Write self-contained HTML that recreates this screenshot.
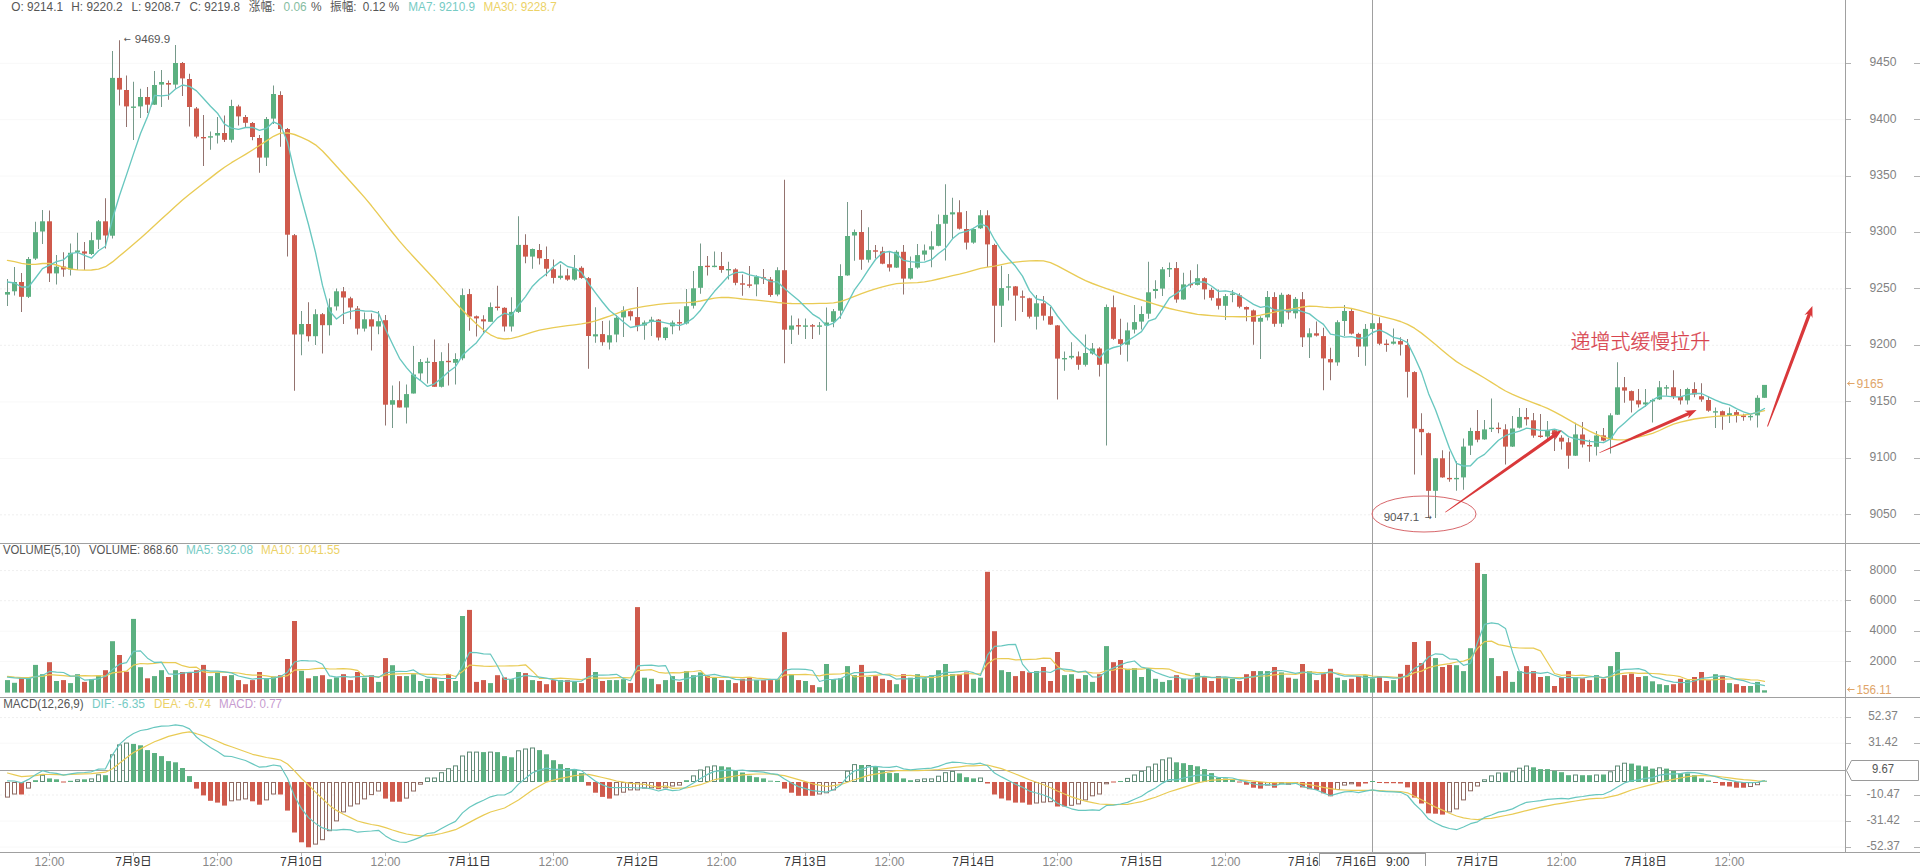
<!DOCTYPE html>
<html lang="zh"><head><meta charset="utf-8"><title>K线图</title><style>html,body{margin:0;padding:0;background:#fff;overflow:hidden}svg{display:block}</style></head><body>
<svg width="1920" height="866" viewBox="0 0 1920 866" font-family="'Liberation Sans','Noto Sans CJK SC',sans-serif" font-size="12">
<rect width="1920" height="866" fill="#fff"/>
<g stroke="#efefef" stroke-width="1" stroke-dasharray="2 2" fill="none">
<path d="M0 288.9H1845"/>
<path d="M0 345.3H1845"/>
<path d="M0 514.8H1845"/>
<path d="M0 570.6H1845"/>
<path d="M0 600.7H1845"/>
<path d="M0 717.6H1845"/>
<path d="M0 795.0H1845"/>
</g>
<g stroke="#f8f8f8" stroke-width="1" fill="none">
<path d="M0 63.3H1845"/>
<path d="M0 119.7H1845"/>
<path d="M0 176.1H1845"/>
<path d="M0 232.5H1845"/>
<path d="M0 401.9H1845"/>
<path d="M0 458.4H1845"/>
<path d="M0 631.2H1845"/>
<path d="M0 661.5H1845"/>
<path d="M0 743.2H1845"/>
<path d="M0 821.0H1845"/>
<path d="M0 847.0H1845"/>
</g>
<g stroke="#a0a0a0" stroke-width="1" fill="none" shape-rendering="crispEdges">
<path d="M1845.5 0V852"/>
<path d="M0 543.5H1920"/>
<path d="M0 697.5H1920"/>
<path d="M0 852.5H1920"/>
<path d="M1372.5 0V852"/>
<path d="M0 770.5H1845"/>
</g>
<g stroke="#b2b2b2" stroke-width="1" fill="none" shape-rendering="crispEdges">
<path d="M1846 63.5h5M1914 63.5h6"/>
<path d="M1846 119.5h5M1914 119.5h6"/>
<path d="M1846 176.5h5M1914 176.5h6"/>
<path d="M1846 232.5h5M1914 232.5h6"/>
<path d="M1846 288.5h5M1914 288.5h6"/>
<path d="M1846 345.5h5M1914 345.5h6"/>
<path d="M1846 401.5h5M1914 401.5h6"/>
<path d="M1846 458.5h5M1914 458.5h6"/>
<path d="M1846 514.5h5M1914 514.5h6"/>
<path d="M1846 570.5h5M1914 570.5h6"/>
<path d="M1846 600.5h5M1914 600.5h6"/>
<path d="M1846 631.5h5M1914 631.5h6"/>
<path d="M1846 661.5h5M1914 661.5h6"/>
<path d="M1846 717.5h5M1914 717.5h6"/>
<path d="M1846 743.5h5M1914 743.5h6"/>
<path d="M1846 795.5h5M1914 795.5h6"/>
<path d="M1846 821.5h5M1914 821.5h6"/>
<path d="M1846 847.5h5M1914 847.5h6"/>
</g>
<g fill="#828282" text-anchor="middle">
<text x="1883" y="66.1" textLength="27" lengthAdjust="spacingAndGlyphs">9450</text>
<text x="1883" y="122.5" textLength="27" lengthAdjust="spacingAndGlyphs">9400</text>
<text x="1883" y="178.9" textLength="27" lengthAdjust="spacingAndGlyphs">9350</text>
<text x="1883" y="235.3" textLength="27" lengthAdjust="spacingAndGlyphs">9300</text>
<text x="1883" y="291.7" textLength="27" lengthAdjust="spacingAndGlyphs">9250</text>
<text x="1883" y="348.1" textLength="27" lengthAdjust="spacingAndGlyphs">9200</text>
<text x="1883" y="404.7" textLength="27" lengthAdjust="spacingAndGlyphs">9150</text>
<text x="1883" y="461.2" textLength="27" lengthAdjust="spacingAndGlyphs">9100</text>
<text x="1883" y="517.6" textLength="27" lengthAdjust="spacingAndGlyphs">9050</text>
<text x="1883" y="573.8" textLength="27" lengthAdjust="spacingAndGlyphs">8000</text>
<text x="1883" y="603.9" textLength="27" lengthAdjust="spacingAndGlyphs">6000</text>
<text x="1883" y="634.4" textLength="27" lengthAdjust="spacingAndGlyphs">4000</text>
<text x="1883" y="664.7" textLength="27" lengthAdjust="spacingAndGlyphs">2000</text>
<text x="1883" y="720.2" textLength="29.5" lengthAdjust="spacingAndGlyphs">52.37</text>
<text x="1883" y="745.8" textLength="29.5" lengthAdjust="spacingAndGlyphs">31.42</text>
<text x="1883.2" y="797.6" textLength="33.5" lengthAdjust="spacingAndGlyphs">-10.47</text>
<text x="1883.2" y="823.6" textLength="33.5" lengthAdjust="spacingAndGlyphs">-31.42</text>
<text x="1883.2" y="849.6" textLength="33.5" lengthAdjust="spacingAndGlyphs">-52.37</text>
</g>
<path fill="#76998a" d="M7.0 279.0h1V305.9h-1zM14.0 267.0h1V295.5h-1zM28.0 257.0h1V298.0h-1zM35.0 221.8h1V260.0h-1zM42.0 210.0h1V243.9h-1zM56.0 255.0h1V284.6h-1zM70.0 243.5h1V275.4h-1zM77.0 232.7h1V270.0h-1zM91.0 232.2h1V255.0h-1zM98.0 220.0h1V249.0h-1zM112.0 51.0h1V238.5h-1zM133.0 81.7h1V140.0h-1zM140.0 88.8h1V118.0h-1zM154.0 71.0h1V105.0h-1zM161.0 70.0h1V107.0h-1zM175.0 45.0h1V88.8h-1zM210.0 131.5h1V149.8h-1zM217.0 117.0h1V143.4h-1zM231.0 99.7h1V142.6h-1zM266.0 117.0h1V166.0h-1zM273.0 85.4h1V124.0h-1zM301.0 310.9h1V355.3h-1zM315.0 309.2h1V344.9h-1zM329.0 298.5h1V335.4h-1zM336.0 288.4h1V310.6h-1zM364.0 312.6h1V331.5h-1zM378.0 311.0h1V334.2h-1zM392.0 385.4h1V428.1h-1zM406.0 384.6h1V423.6h-1zM413.0 346.0h1V393.5h-1zM420.0 359.0h1V380.4h-1zM427.0 357.8h1V383.4h-1zM441.0 352.3h1V387.4h-1zM455.0 353.3h1V384.6h-1zM462.0 288.4h1V360.3h-1zM490.0 302.5h1V321.8h-1zM511.0 297.2h1V331.5h-1zM518.0 216.2h1V313.0h-1zM532.0 248.6h1V268.7h-1zM560.0 264.5h1V279.6h-1zM574.0 254.9h1V280.7h-1zM595.0 307.3h1V342.7h-1zM609.0 320.4h1V349.6h-1zM616.0 315.0h1V342.3h-1zM623.0 306.2h1V336.9h-1zM644.0 320.5h1V339.7h-1zM651.0 316.8h1V335.9h-1zM665.0 327.0h1V340.2h-1zM672.0 320.5h1V334.2h-1zM686.0 289.0h1V324.6h-1zM693.0 271.0h1V308.4h-1zM700.0 243.4h1V293.7h-1zM714.0 251.4h1V267.2h-1zM728.0 261.8h1V279.4h-1zM756.0 275.2h1V296.2h-1zM777.0 267.2h1V296.2h-1zM791.0 315.4h1V343.9h-1zM805.0 318.4h1V338.9h-1zM819.0 322.1h1V334.7h-1zM826.0 307.4h1V390.7h-1zM833.0 309.1h1V327.2h-1zM840.0 264.3h1V318.8h-1zM847.0 201.9h1V275.7h-1zM854.0 229.5h1V260.7h-1zM868.0 227.3h1V262.6h-1zM896.0 250.2h1V267.9h-1zM910.0 256.5h1V279.4h-1zM917.0 244.0h1V268.7h-1zM924.0 244.6h1V260.5h-1zM931.0 231.2h1V267.2h-1zM938.0 214.4h1V246.3h-1zM945.0 184.3h1V260.5h-1zM952.0 197.7h1V238.7h-1zM973.0 227.8h1V243.8h-1zM980.0 209.9h1V229.0h-1zM1001.0 265.8h1V327.1h-1zM1008.0 274.1h1V300.6h-1zM1036.0 294.9h1V329.6h-1zM1064.0 351.4h1V370.7h-1zM1071.0 342.2h1V359.3h-1zM1085.0 334.6h1V366.5h-1zM1092.0 343.0h1V354.7h-1zM1106.0 304.5h1V445.6h-1zM1127.0 322.4h1V361.4h-1zM1134.0 305.0h1V333.5h-1zM1141.0 306.2h1V329.6h-1zM1148.0 261.8h1V318.7h-1zM1155.0 280.2h1V298.6h-1zM1162.0 267.1h1V296.1h-1zM1169.0 262.6h1V276.9h-1zM1183.0 272.7h1V299.8h-1zM1197.0 264.3h1V285.6h-1zM1225.0 293.9h1V320.1h-1zM1232.0 289.9h1V302.3h-1zM1260.0 316.2h1V358.9h-1zM1267.0 291.1h1V320.4h-1zM1281.0 292.8h1V327.0h-1zM1295.0 296.9h1V318.4h-1zM1309.0 328.2h1V357.9h-1zM1337.0 320.2h1V365.8h-1zM1344.0 305.1h1V336.1h-1zM1365.0 323.9h1V365.8h-1zM1372.0 320.0h1V335.0h-1zM1393.0 328.6h1V344.5h-1zM1435.0 458.0h1V518.1h-1zM1456.0 461.2h1V490.8h-1zM1463.0 438.6h1V489.7h-1zM1470.0 427.7h1V455.0h-1zM1484.0 420.1h1V439.8h-1zM1491.0 398.5h1V431.9h-1zM1512.0 416.0h1V447.0h-1zM1519.0 408.1h1V428.5h-1zM1547.0 421.0h1V438.9h-1zM1575.0 422.7h1V456.0h-1zM1596.0 431.1h1V455.6h-1zM1610.0 413.2h1V453.6h-1zM1617.0 362.2h1V415.0h-1zM1645.0 389.0h1V406.7h-1zM1652.0 398.7h1V422.6h-1zM1659.0 381.1h1V400.0h-1zM1666.0 384.9h1V395.7h-1zM1687.0 387.8h1V404.6h-1zM1715.0 407.4h1V428.0h-1zM1729.0 407.4h1V423.0h-1zM1750.0 414.6h1V420.5h-1zM1757.0 395.3h1V427.5h-1zM1764.0 384.9h1V397.8h-1z"/>
<path fill="#93726e" d="M21.0 272.9h1V311.9h-1zM49.0 210.4h1V282.0h-1zM63.0 252.3h1V276.7h-1zM84.0 241.9h1V270.0h-1zM105.0 198.3h1V248.6h-1zM119.0 40.2h1V105.5h-1zM126.0 75.4h1V127.0h-1zM147.0 87.0h1V113.0h-1zM168.0 80.4h1V99.7h-1zM182.0 62.0h1V96.0h-1zM189.0 73.7h1V126.5h-1zM196.0 107.0h1V138.2h-1zM203.0 115.0h1V166.0h-1zM224.0 115.6h1V142.0h-1zM238.0 104.7h1V125.6h-1zM245.0 115.0h1V128.0h-1zM252.0 122.0h1V140.3h-1zM259.0 135.0h1V172.7h-1zM280.0 91.3h1V146.8h-1zM287.0 128.0h1V256.5h-1zM294.0 234.0h1V390.7h-1zM308.0 302.2h1V341.5h-1zM322.0 313.0h1V353.6h-1zM343.0 287.0h1V324.0h-1zM350.0 296.8h1V319.3h-1zM357.0 305.9h1V334.5h-1zM371.0 313.6h1V350.6h-1zM385.0 315.0h1V425.6h-1zM399.0 381.2h1V407.5h-1zM434.0 339.4h1V386.8h-1zM448.0 343.2h1V385.4h-1zM469.0 289.1h1V330.8h-1zM476.0 315.6h1V336.5h-1zM483.0 315.3h1V332.5h-1zM497.0 285.8h1V310.6h-1zM504.0 307.2h1V331.5h-1zM525.0 234.3h1V263.3h-1zM539.0 243.9h1V264.5h-1zM546.0 246.6h1V276.2h-1zM553.0 259.5h1V283.4h-1zM567.0 268.7h1V280.7h-1zM581.0 266.2h1V278.7h-1zM588.0 277.0h1V368.7h-1zM602.0 321.0h1V345.8h-1zM630.0 310.4h1V320.5h-1zM637.0 287.0h1V331.3h-1zM658.0 319.0h1V340.6h-1zM679.0 309.6h1V330.5h-1zM707.0 256.0h1V275.6h-1zM721.0 252.1h1V272.7h-1zM735.0 268.2h1V285.3h-1zM742.0 274.4h1V295.7h-1zM749.0 266.0h1V287.8h-1zM763.0 268.9h1V283.9h-1zM770.0 276.9h1V296.7h-1zM784.0 179.8h1V363.2h-1zM798.0 318.4h1V334.7h-1zM812.0 324.1h1V338.9h-1zM861.0 209.9h1V269.8h-1zM875.0 244.9h1V258.6h-1zM882.0 246.8h1V264.3h-1zM889.0 252.1h1V271.4h-1zM903.0 245.1h1V294.6h-1zM959.0 200.2h1V229.5h-1zM966.0 211.1h1V249.6h-1zM987.0 210.3h1V267.0h-1zM994.0 243.8h1V342.5h-1zM1015.0 286.0h1V320.7h-1zM1022.0 290.5h1V312.0h-1zM1029.0 297.8h1V318.4h-1zM1043.0 296.0h1V320.4h-1zM1050.0 307.0h1V325.0h-1zM1057.0 325.0h1V399.5h-1zM1078.0 351.4h1V369.8h-1zM1099.0 347.2h1V376.5h-1zM1113.0 295.6h1V339.7h-1zM1120.0 318.7h1V354.7h-1zM1176.0 262.1h1V302.8h-1zM1190.0 270.2h1V287.7h-1zM1204.0 277.2h1V299.5h-1zM1211.0 287.7h1V300.6h-1zM1218.0 289.4h1V309.5h-1zM1239.0 293.3h1V308.3h-1zM1246.0 306.5h1V321.2h-1zM1253.0 309.5h1V344.7h-1zM1274.0 292.3h1V326.8h-1zM1288.0 293.9h1V319.5h-1zM1302.0 292.1h1V347.0h-1zM1316.0 321.5h1V336.6h-1zM1323.0 327.7h1V390.2h-1zM1330.0 347.8h1V380.2h-1zM1351.0 308.5h1V334.4h-1zM1358.0 332.8h1V357.1h-1zM1379.0 317.2h1V345.3h-1zM1386.0 339.5h1V351.7h-1zM1400.0 337.3h1V355.4h-1zM1407.0 339.0h1V397.6h-1zM1414.0 371.3h1V474.6h-1zM1421.0 413.3h1V455.3h-1zM1428.0 432.5h1V518.1h-1zM1442.0 450.3h1V477.8h-1zM1449.0 451.6h1V481.8h-1zM1477.0 410.0h1V442.3h-1zM1498.0 422.6h1V433.2h-1zM1505.0 424.3h1V464.5h-1zM1526.0 408.1h1V425.5h-1zM1533.0 413.1h1V437.7h-1zM1540.0 414.0h1V437.7h-1zM1554.0 429.4h1V451.1h-1zM1561.0 435.2h1V449.5h-1zM1568.0 437.7h1V468.7h-1zM1582.0 422.1h1V447.5h-1zM1589.0 439.8h1V461.7h-1zM1603.0 428.1h1V441.2h-1zM1624.0 376.9h1V402.8h-1zM1631.0 390.5h1V412.5h-1zM1638.0 389.0h1V407.5h-1zM1673.0 370.2h1V399.0h-1zM1680.0 389.0h1V404.4h-1zM1694.0 382.3h1V397.3h-1zM1701.0 383.3h1V401.7h-1zM1708.0 396.2h1V411.7h-1zM1722.0 410.5h1V429.7h-1zM1736.0 410.1h1V422.5h-1zM1743.0 413.8h1V420.8h-1z"/>
<g fill="#5bb080"><rect x="5.0" y="292.0" width="5" height="2.6"/><rect x="12.0" y="282.0" width="5" height="9.3"/><rect x="26.0" y="259.0" width="5" height="37.8"/><rect x="33.0" y="232.2" width="5" height="26.4"/><rect x="40.0" y="221.3" width="5" height="10.2"/><rect x="54.0" y="266.7" width="5" height="6.7"/><rect x="68.0" y="252.8" width="5" height="16.7"/><rect x="75.0" y="250.5" width="5" height="1.4"/><rect x="89.0" y="240.2" width="5" height="13.8"/><rect x="96.0" y="221.3" width="5" height="18.4"/><rect x="110.0" y="77.9" width="5" height="157.8"/><rect x="131.0" y="106.5" width="5" height="1.4"/><rect x="138.0" y="97.0" width="5" height="9.4"/><rect x="152.0" y="85.0" width="5" height="19.7"/><rect x="159.0" y="82.0" width="5" height="2.6"/><rect x="173.0" y="63.0" width="5" height="21.6"/><rect x="208.0" y="136.2" width="5" height="1.4"/><rect x="215.0" y="133.0" width="5" height="2.5"/><rect x="229.0" y="106.0" width="5" height="33.8"/><rect x="264.0" y="119.0" width="5" height="38.6"/><rect x="271.0" y="94.0" width="5" height="24.6"/><rect x="299.0" y="324.0" width="5" height="10.4"/><rect x="313.0" y="314.2" width="5" height="22.0"/><rect x="327.0" y="307.3" width="5" height="17.9"/><rect x="334.0" y="291.3" width="5" height="15.1"/><rect x="362.0" y="319.3" width="5" height="9.3"/><rect x="376.0" y="321.2" width="5" height="5.3"/><rect x="390.0" y="400.2" width="5" height="4.5"/><rect x="404.0" y="394.1" width="5" height="13.4"/><rect x="411.0" y="374.5" width="5" height="19.0"/><rect x="418.0" y="362.0" width="5" height="11.4"/><rect x="425.0" y="361.5" width="5" height="1.4"/><rect x="439.0" y="361.1" width="5" height="25.7"/><rect x="453.0" y="359.0" width="5" height="3.8"/><rect x="460.0" y="295.1" width="5" height="63.2"/><rect x="488.0" y="307.1" width="5" height="14.7"/><rect x="509.0" y="311.9" width="5" height="14.6"/><rect x="516.0" y="244.9" width="5" height="67.0"/><rect x="530.0" y="249.0" width="5" height="7.6"/><rect x="558.0" y="275.7" width="5" height="2.2"/><rect x="572.0" y="268.3" width="5" height="11.3"/><rect x="593.0" y="334.3" width="5" height="2.1"/><rect x="607.0" y="335.2" width="5" height="7.3"/><rect x="614.0" y="317.8" width="5" height="16.7"/><rect x="621.0" y="310.4" width="5" height="7.0"/><rect x="642.0" y="322.5" width="5" height="3.0"/><rect x="649.0" y="319.6" width="5" height="2.2"/><rect x="663.0" y="327.5" width="5" height="10.5"/><rect x="670.0" y="322.5" width="5" height="3.8"/><rect x="684.0" y="306.2" width="5" height="17.3"/><rect x="691.0" y="288.3" width="5" height="17.4"/><rect x="698.0" y="266.0" width="5" height="21.8"/><rect x="712.0" y="265.7" width="5" height="1.4"/><rect x="726.0" y="269.0" width="5" height="1.4"/><rect x="754.0" y="276.6" width="5" height="7.8"/><rect x="775.0" y="270.2" width="5" height="24.3"/><rect x="789.0" y="325.5" width="5" height="4.2"/><rect x="803.0" y="325.4" width="5" height="1.4"/><rect x="817.0" y="325.4" width="5" height="1.4"/><rect x="824.0" y="322.5" width="5" height="3.0"/><rect x="831.0" y="311.2" width="5" height="10.6"/><rect x="838.0" y="276.0" width="5" height="34.7"/><rect x="845.0" y="236.0" width="5" height="39.4"/><rect x="852.0" y="232.0" width="5" height="3.5"/><rect x="866.0" y="250.1" width="5" height="9.6"/><rect x="894.0" y="251.8" width="5" height="15.8"/><rect x="908.0" y="268.1" width="5" height="10.5"/><rect x="915.0" y="255.1" width="5" height="12.5"/><rect x="922.0" y="250.5" width="5" height="4.1"/><rect x="929.0" y="246.3" width="5" height="3.3"/><rect x="936.0" y="224.2" width="5" height="21.6"/><rect x="943.0" y="214.9" width="5" height="8.8"/><rect x="950.0" y="212.3" width="5" height="2.1"/><rect x="971.0" y="229.0" width="5" height="13.6"/><rect x="978.0" y="215.3" width="5" height="13.0"/><rect x="999.0" y="288.1" width="5" height="17.6"/><rect x="1006.0" y="286.3" width="5" height="1.4"/><rect x="1034.0" y="303.3" width="5" height="13.4"/><rect x="1062.0" y="358.0" width="5" height="1.4"/><rect x="1069.0" y="355.9" width="5" height="1.7"/><rect x="1083.0" y="353.0" width="5" height="11.8"/><rect x="1090.0" y="348.5" width="5" height="5.1"/><rect x="1104.0" y="307.0" width="5" height="56.6"/><rect x="1125.0" y="330.4" width="5" height="14.3"/><rect x="1132.0" y="322.1" width="5" height="7.5"/><rect x="1139.0" y="314.0" width="5" height="7.6"/><rect x="1146.0" y="292.3" width="5" height="21.4"/><rect x="1153.0" y="289.0" width="5" height="2.0"/><rect x="1160.0" y="269.3" width="5" height="19.3"/><rect x="1167.0" y="268.0" width="5" height="1.4"/><rect x="1181.0" y="284.4" width="5" height="15.1"/><rect x="1195.0" y="278.2" width="5" height="6.7"/><rect x="1223.0" y="296.1" width="5" height="9.7"/><rect x="1230.0" y="293.5" width="5" height="1.4"/><rect x="1258.0" y="317.9" width="5" height="3.8"/><rect x="1265.0" y="297.0" width="5" height="20.4"/><rect x="1279.0" y="294.8" width="5" height="28.8"/><rect x="1293.0" y="298.9" width="5" height="14.4"/><rect x="1307.0" y="333.3" width="5" height="4.0"/><rect x="1335.0" y="322.2" width="5" height="40.2"/><rect x="1342.0" y="311.0" width="5" height="10.0"/><rect x="1363.0" y="328.9" width="5" height="17.6"/><rect x="1370.0" y="323.2" width="5" height="5.7"/><rect x="1391.0" y="341.6" width="5" height="2.1"/><rect x="1433.0" y="458.3" width="5" height="32.5"/><rect x="1454.0" y="477.9" width="5" height="1.4"/><rect x="1461.0" y="446.6" width="5" height="30.8"/><rect x="1468.0" y="431.0" width="5" height="14.6"/><rect x="1482.0" y="429.4" width="5" height="10.0"/><rect x="1489.0" y="427.7" width="5" height="1.4"/><rect x="1510.0" y="428.5" width="5" height="18.1"/><rect x="1517.0" y="416.9" width="5" height="10.8"/><rect x="1545.0" y="430.2" width="5" height="6.4"/><rect x="1573.0" y="434.4" width="5" height="21.3"/><rect x="1594.0" y="435.5" width="5" height="11.3"/><rect x="1608.0" y="415.3" width="5" height="23.8"/><rect x="1615.0" y="387.3" width="5" height="27.4"/><rect x="1643.0" y="402.4" width="5" height="2.0"/><rect x="1650.0" y="400.0" width="5" height="1.4"/><rect x="1657.0" y="387.3" width="5" height="12.1"/><rect x="1664.0" y="387.2" width="5" height="1.4"/><rect x="1685.0" y="389.0" width="5" height="11.4"/><rect x="1713.0" y="411.2" width="5" height="1.4"/><rect x="1727.0" y="413.2" width="5" height="2.6"/><rect x="1748.0" y="415.9" width="5" height="1.4"/><rect x="1755.0" y="397.8" width="5" height="17.6"/><rect x="1762.0" y="384.9" width="5" height="12.9"/></g>
<g fill="#cf5a4c"><rect x="19.0" y="282.0" width="5" height="14.8"/><rect x="47.0" y="221.3" width="5" height="52.1"/><rect x="61.0" y="266.5" width="5" height="3.0"/><rect x="82.0" y="251.4" width="5" height="2.2"/><rect x="103.0" y="221.3" width="5" height="14.2"/><rect x="117.0" y="77.9" width="5" height="11.7"/><rect x="124.0" y="90.0" width="5" height="16.4"/><rect x="145.0" y="97.0" width="5" height="7.7"/><rect x="166.0" y="83.0" width="5" height="1.6"/><rect x="180.0" y="63.0" width="5" height="15.4"/><rect x="187.0" y="79.0" width="5" height="28.0"/><rect x="194.0" y="108.5" width="5" height="28.1"/><rect x="201.0" y="137.0" width="5" height="1.4"/><rect x="222.0" y="133.0" width="5" height="6.8"/><rect x="236.0" y="106.4" width="5" height="10.0"/><rect x="243.0" y="117.0" width="5" height="5.8"/><rect x="250.0" y="123.0" width="5" height="14.0"/><rect x="257.0" y="138.0" width="5" height="19.6"/><rect x="278.0" y="95.0" width="5" height="34.0"/><rect x="285.0" y="129.0" width="5" height="105.7"/><rect x="292.0" y="235.2" width="5" height="99.3"/><rect x="306.0" y="324.0" width="5" height="12.2"/><rect x="320.0" y="314.2" width="5" height="11.0"/><rect x="341.0" y="291.3" width="5" height="6.2"/><rect x="348.0" y="298.3" width="5" height="9.2"/><rect x="355.0" y="308.5" width="5" height="20.1"/><rect x="369.0" y="319.3" width="5" height="7.2"/><rect x="383.0" y="320.2" width="5" height="84.5"/><rect x="397.0" y="400.2" width="5" height="7.3"/><rect x="432.0" y="362.0" width="5" height="24.8"/><rect x="446.0" y="360.8" width="5" height="1.4"/><rect x="467.0" y="294.1" width="5" height="22.4"/><rect x="474.0" y="316.3" width="5" height="2.1"/><rect x="481.0" y="319.3" width="5" height="2.1"/><rect x="495.0" y="306.6" width="5" height="1.4"/><rect x="502.0" y="307.8" width="5" height="18.7"/><rect x="523.0" y="244.9" width="5" height="11.7"/><rect x="537.0" y="250.0" width="5" height="8.3"/><rect x="544.0" y="259.0" width="5" height="9.7"/><rect x="551.0" y="269.2" width="5" height="8.7"/><rect x="565.0" y="275.4" width="5" height="4.2"/><rect x="579.0" y="267.8" width="5" height="10.1"/><rect x="586.0" y="278.2" width="5" height="57.8"/><rect x="600.0" y="334.1" width="5" height="8.1"/><rect x="628.0" y="311.2" width="5" height="5.1"/><rect x="635.0" y="317.1" width="5" height="8.7"/><rect x="656.0" y="319.6" width="5" height="17.9"/><rect x="677.0" y="322.1" width="5" height="1.4"/><rect x="705.0" y="265.7" width="5" height="1.4"/><rect x="719.0" y="266.0" width="5" height="3.9"/><rect x="733.0" y="269.4" width="5" height="13.4"/><rect x="740.0" y="283.3" width="5" height="1.4"/><rect x="747.0" y="284.4" width="5" height="1.4"/><rect x="761.0" y="277.2" width="5" height="1.4"/><rect x="768.0" y="279.4" width="5" height="15.6"/><rect x="782.0" y="270.2" width="5" height="59.5"/><rect x="796.0" y="325.1" width="5" height="1.4"/><rect x="810.0" y="325.2" width="5" height="1.4"/><rect x="859.0" y="232.0" width="5" height="27.7"/><rect x="873.0" y="250.3" width="5" height="1.4"/><rect x="880.0" y="251.3" width="5" height="12.4"/><rect x="887.0" y="264.2" width="5" height="3.4"/><rect x="901.0" y="251.8" width="5" height="26.8"/><rect x="957.0" y="212.3" width="5" height="16.4"/><rect x="964.0" y="229.0" width="5" height="13.6"/><rect x="985.0" y="215.3" width="5" height="29.1"/><rect x="992.0" y="245.0" width="5" height="60.7"/><rect x="1013.0" y="286.4" width="5" height="9.2"/><rect x="1020.0" y="296.3" width="5" height="1.4"/><rect x="1027.0" y="298.3" width="5" height="18.4"/><rect x="1041.0" y="303.3" width="5" height="12.4"/><rect x="1048.0" y="316.2" width="5" height="8.4"/><rect x="1055.0" y="325.4" width="5" height="33.2"/><rect x="1076.0" y="356.4" width="5" height="8.4"/><rect x="1097.0" y="348.5" width="5" height="16.3"/><rect x="1111.0" y="307.3" width="5" height="31.5"/><rect x="1118.0" y="339.2" width="5" height="4.7"/><rect x="1174.0" y="268.1" width="5" height="31.4"/><rect x="1188.0" y="283.9" width="5" height="1.4"/><rect x="1202.0" y="278.2" width="5" height="11.2"/><rect x="1209.0" y="289.9" width="5" height="7.9"/><rect x="1216.0" y="298.3" width="5" height="7.5"/><rect x="1237.0" y="295.3" width="5" height="11.4"/><rect x="1244.0" y="307.0" width="5" height="2.5"/><rect x="1251.0" y="310.4" width="5" height="11.3"/><rect x="1272.0" y="297.0" width="5" height="26.8"/><rect x="1286.0" y="294.8" width="5" height="17.7"/><rect x="1300.0" y="299.3" width="5" height="38.0"/><rect x="1314.0" y="333.3" width="5" height="2.3"/><rect x="1321.0" y="336.1" width="5" height="22.3"/><rect x="1328.0" y="359.1" width="5" height="3.3"/><rect x="1349.0" y="311.0" width="5" height="22.6"/><rect x="1356.0" y="333.9" width="5" height="12.6"/><rect x="1377.0" y="323.2" width="5" height="20.5"/><rect x="1384.0" y="343.6" width="5" height="1.4"/><rect x="1398.0" y="341.1" width="5" height="3.4"/><rect x="1405.0" y="345.0" width="5" height="26.8"/><rect x="1412.0" y="372.1" width="5" height="56.4"/><rect x="1419.0" y="428.9" width="5" height="3.3"/><rect x="1426.0" y="433.2" width="5" height="57.6"/><rect x="1440.0" y="458.3" width="5" height="19.1"/><rect x="1447.0" y="477.9" width="5" height="1.4"/><rect x="1475.0" y="431.0" width="5" height="8.7"/><rect x="1496.0" y="427.7" width="5" height="1.4"/><rect x="1503.0" y="429.4" width="5" height="17.2"/><rect x="1524.0" y="417.1" width="5" height="2.2"/><rect x="1531.0" y="420.3" width="5" height="15.3"/><rect x="1538.0" y="435.6" width="5" height="1.4"/><rect x="1552.0" y="430.2" width="5" height="7.0"/><rect x="1559.0" y="437.7" width="5" height="3.9"/><rect x="1566.0" y="442.3" width="5" height="13.4"/><rect x="1580.0" y="434.5" width="5" height="10.0"/><rect x="1587.0" y="445.0" width="5" height="1.4"/><rect x="1601.0" y="435.4" width="5" height="5.2"/><rect x="1622.0" y="387.3" width="5" height="3.3"/><rect x="1629.0" y="391.1" width="5" height="9.5"/><rect x="1636.0" y="400.4" width="5" height="4.0"/><rect x="1671.0" y="387.3" width="5" height="9.1"/><rect x="1678.0" y="397.0" width="5" height="3.4"/><rect x="1692.0" y="389.0" width="5" height="5.4"/><rect x="1699.0" y="396.2" width="5" height="3.3"/><rect x="1706.0" y="400.0" width="5" height="10.7"/><rect x="1720.0" y="411.2" width="5" height="4.6"/><rect x="1734.0" y="412.1" width="5" height="3.0"/><rect x="1741.0" y="415.4" width="5" height="1.7"/></g>
<path d="M7.5 260.4 L14.5 261.7 L21.5 263.3 L28.5 264.4 L35.5 264.3 L42.5 263.5 L49.5 263.5 L56.5 265.0 L63.5 267.3 L70.5 269.0 L77.5 269.8 L84.5 270.1 L91.5 270.0 L98.5 269.1 L105.5 266.7 L112.5 261.9 L119.5 256.1 L126.5 250.2 L133.5 244.3 L140.5 238.3 L147.5 232.0 L154.5 225.6 L161.5 219.1 L168.5 212.7 L175.5 206.2 L182.5 200.0 L189.5 194.3 L196.5 188.8 L203.5 183.3 L210.5 177.9 L217.5 172.4 L224.5 167.2 L231.5 162.7 L238.5 158.5 L245.5 154.3 L252.5 150.0 L259.5 145.5 L266.5 140.9 L273.5 136.3 L280.5 133.2 L287.5 132.9 L294.5 134.5 L301.5 137.3 L308.5 140.6 L315.5 144.8 L322.5 151.0 L329.5 158.5 L336.5 166.3 L343.5 174.0 L350.5 181.7 L357.5 189.5 L364.5 197.4 L371.5 205.8 L378.5 214.7 L385.5 223.6 L392.5 232.5 L399.5 241.1 L406.5 249.1 L413.5 256.7 L420.5 264.2 L427.5 271.7 L434.5 279.3 L441.5 287.1 L448.5 294.9 L455.5 302.8 L462.5 310.3 L469.5 317.3 L476.5 323.9 L483.5 330.0 L490.5 334.8 L497.5 338.0 L504.5 339.0 L511.5 338.4 L518.5 336.7 L525.5 334.4 L532.5 332.1 L539.5 330.1 L546.5 328.8 L553.5 327.7 L560.5 326.7 L567.5 325.7 L574.5 324.8 L581.5 323.9 L588.5 322.7 L595.5 320.8 L602.5 318.5 L609.5 316.2 L616.5 313.6 L623.5 310.9 L630.5 309.0 L637.5 307.6 L644.5 306.3 L651.5 305.3 L658.5 304.3 L665.5 303.6 L672.5 303.1 L679.5 302.9 L686.5 302.6 L693.5 302.1 L700.5 301.0 L707.5 299.5 L714.5 298.1 L721.5 297.3 L728.5 297.5 L735.5 298.2 L742.5 299.0 L749.5 299.6 L756.5 300.1 L763.5 300.8 L770.5 301.6 L777.5 302.5 L784.5 303.2 L791.5 303.5 L798.5 303.6 L805.5 303.6 L812.5 303.6 L819.5 303.4 L826.5 303.3 L833.5 302.9 L840.5 301.6 L847.5 299.1 L854.5 296.3 L861.5 293.7 L868.5 291.1 L875.5 288.8 L882.5 286.8 L889.5 285.1 L896.5 283.7 L903.5 283.1 L910.5 282.8 L917.5 282.6 L924.5 281.9 L931.5 280.6 L938.5 279.0 L945.5 277.3 L952.5 275.7 L959.5 274.2 L966.5 272.4 L973.5 270.3 L980.5 268.4 L987.5 267.2 L994.5 266.2 L1001.5 264.7 L1008.5 263.2 L1015.5 262.2 L1022.5 261.4 L1029.5 260.9 L1036.5 260.6 L1043.5 260.8 L1050.5 262.6 L1057.5 265.8 L1064.5 269.6 L1071.5 273.3 L1078.5 277.2 L1085.5 280.7 L1092.5 283.5 L1099.5 286.1 L1106.5 288.6 L1113.5 291.0 L1120.5 293.3 L1127.5 295.6 L1134.5 297.8 L1141.5 300.0 L1148.5 302.2 L1155.5 304.4 L1162.5 306.5 L1169.5 308.5 L1176.5 310.1 L1183.5 311.6 L1190.5 313.0 L1197.5 314.3 L1204.5 315.0 L1211.5 315.6 L1218.5 316.1 L1225.5 316.6 L1232.5 316.7 L1239.5 316.7 L1246.5 316.7 L1253.5 316.3 L1260.5 315.2 L1267.5 313.7 L1274.5 312.1 L1281.5 310.6 L1288.5 309.4 L1295.5 308.4 L1302.5 307.0 L1309.5 306.1 L1316.5 306.4 L1323.5 307.2 L1330.5 307.7 L1337.5 307.4 L1344.5 307.4 L1351.5 308.5 L1358.5 310.2 L1365.5 312.1 L1372.5 314.1 L1379.5 315.9 L1386.5 317.7 L1393.5 319.4 L1400.5 321.5 L1407.5 324.4 L1414.5 328.2 L1421.5 333.1 L1428.5 338.7 L1435.5 344.5 L1442.5 350.4 L1449.5 356.2 L1456.5 361.6 L1463.5 366.0 L1470.5 369.9 L1477.5 373.9 L1484.5 378.0 L1491.5 382.3 L1498.5 386.8 L1505.5 391.0 L1512.5 394.4 L1519.5 397.3 L1526.5 400.2 L1533.5 402.9 L1540.5 405.5 L1547.5 408.4 L1554.5 411.9 L1561.5 415.7 L1568.5 419.7 L1575.5 423.7 L1582.5 427.4 L1589.5 431.1 L1596.5 434.4 L1603.5 437.1 L1610.5 439.0 L1617.5 439.9 L1624.5 439.8 L1631.5 438.7 L1638.5 437.1 L1645.5 435.4 L1652.5 433.4 L1659.5 430.5 L1666.5 427.1 L1673.5 424.2 L1680.5 422.1 L1687.5 420.5 L1694.5 419.0 L1701.5 418.0 L1708.5 417.1 L1715.5 416.4 L1722.5 416.0 L1729.5 415.7 L1736.5 415.4 L1743.5 415.0 L1750.5 414.1 L1757.5 412.4 L1764.5 410.7" fill="none" stroke="#e9cb55" stroke-width="1.35" stroke-linejoin="round" stroke-linecap="round"/>
<path d="M7.5 282.0 L14.5 283.0 L21.5 287.0 L28.5 287.0 L35.5 278.0 L42.5 268.7 L49.5 265.2 L56.5 261.6 L63.5 259.8 L70.5 253.6 L77.5 252.3 L84.5 255.4 L91.5 258.1 L98.5 250.7 L105.5 246.2 L112.5 218.8 L119.5 195.5 L126.5 174.9 L133.5 153.9 L140.5 133.5 L147.5 116.8 L154.5 95.3 L161.5 95.9 L168.5 95.2 L175.5 89.0 L182.5 85.0 L189.5 86.4 L196.5 90.9 L203.5 98.5 L210.5 106.3 L217.5 113.2 L224.5 124.1 L231.5 128.1 L238.5 129.4 L245.5 127.5 L252.5 127.3 L259.5 130.4 L266.5 128.4 L273.5 121.8 L280.5 125.1 L287.5 142.0 L294.5 172.3 L301.5 199.0 L308.5 224.5 L315.5 252.4 L322.5 285.4 L329.5 310.9 L336.5 319.0 L343.5 313.7 L350.5 311.3 L357.5 310.2 L364.5 311.0 L371.5 311.1 L378.5 313.1 L385.5 329.3 L392.5 344.0 L399.5 358.3 L406.5 367.6 L413.5 375.5 L420.5 380.6 L427.5 386.4 L434.5 383.8 L441.5 378.2 L448.5 371.7 L455.5 366.7 L462.5 355.3 L469.5 348.8 L476.5 342.7 L483.5 333.3 L490.5 325.6 L497.5 317.9 L504.5 313.2 L511.5 315.6 L518.5 305.4 L525.5 296.6 L532.5 286.2 L539.5 279.3 L546.5 273.7 L553.5 266.8 L560.5 261.6 L567.5 266.5 L574.5 268.2 L581.5 272.3 L588.5 283.4 L595.5 292.8 L602.5 302.0 L609.5 310.5 L616.5 316.0 L623.5 322.0 L630.5 327.5 L637.5 326.0 L644.5 324.3 L651.5 321.1 L658.5 321.4 L665.5 322.8 L672.5 324.5 L679.5 325.6 L686.5 322.8 L693.5 317.9 L700.5 310.2 L707.5 300.1 L714.5 291.3 L721.5 283.8 L728.5 276.0 L735.5 272.6 L742.5 272.1 L749.5 274.9 L756.5 276.3 L763.5 278.1 L770.5 281.7 L777.5 281.8 L784.5 288.5 L791.5 294.4 L798.5 300.2 L805.5 307.2 L812.5 314.1 L819.5 318.4 L826.5 325.9 L833.5 323.2 L840.5 316.2 L847.5 303.3 L854.5 289.9 L861.5 280.4 L868.5 269.6 L875.5 259.5 L882.5 252.7 L889.5 251.5 L896.5 253.7 L903.5 260.4 L910.5 261.6 L917.5 262.3 L924.5 262.2 L931.5 259.7 L938.5 253.5 L945.5 248.2 L952.5 238.8 L959.5 233.1 L966.5 231.4 L973.5 228.3 L980.5 223.9 L987.5 226.7 L994.5 239.7 L1001.5 250.5 L1008.5 258.8 L1015.5 266.3 L1022.5 276.1 L1029.5 290.6 L1036.5 299.0 L1043.5 300.5 L1050.5 305.7 L1057.5 316.0 L1064.5 324.9 L1071.5 333.3 L1078.5 340.1 L1085.5 347.2 L1092.5 351.9 L1099.5 357.7 L1106.5 350.3 L1113.5 347.5 L1120.5 345.8 L1127.5 340.9 L1134.5 336.5 L1141.5 331.6 L1148.5 321.2 L1155.5 318.6 L1162.5 308.7 L1169.5 297.9 L1176.5 293.5 L1183.5 288.1 L1190.5 283.9 L1197.5 281.9 L1204.5 282.0 L1211.5 286.0 L1218.5 291.4 L1225.5 290.9 L1232.5 292.2 L1239.5 295.4 L1246.5 299.8 L1253.5 304.4 L1260.5 307.3 L1267.5 306.1 L1274.5 310.0 L1281.5 310.2 L1288.5 311.0 L1295.5 309.5 L1302.5 311.7 L1309.5 313.9 L1316.5 319.5 L1323.5 324.4 L1330.5 334.1 L1337.5 335.4 L1344.5 337.2 L1351.5 336.6 L1358.5 338.5 L1365.5 337.6 L1372.5 332.5 L1379.5 329.9 L1386.5 333.1 L1393.5 337.4 L1400.5 339.0 L1407.5 342.6 L1414.5 356.8 L1421.5 372.4 L1428.5 393.4 L1435.5 409.7 L1442.5 429.1 L1449.5 448.3 L1456.5 463.4 L1463.5 466.0 L1470.5 465.8 L1477.5 458.5 L1484.5 454.4 L1491.5 447.3 L1498.5 440.2 L1505.5 435.7 L1512.5 433.1 L1519.5 431.1 L1526.5 428.2 L1533.5 429.1 L1540.5 430.3 L1547.5 430.5 L1554.5 429.2 L1561.5 431.1 L1568.5 436.6 L1575.5 438.8 L1582.5 440.0 L1589.5 441.4 L1596.5 442.2 L1603.5 442.7 L1610.5 438.9 L1617.5 429.1 L1624.5 422.9 L1631.5 416.6 L1638.5 410.6 L1645.5 405.9 L1652.5 400.1 L1659.5 396.1 L1666.5 396.1 L1673.5 396.9 L1680.5 396.9 L1687.5 394.7 L1694.5 393.5 L1701.5 393.5 L1708.5 396.8 L1715.5 400.2 L1722.5 403.0 L1729.5 404.8 L1736.5 408.6 L1743.5 411.8 L1750.5 414.1 L1757.5 412.3 L1764.5 408.5" fill="none" stroke="#68c7bf" stroke-width="1.35" stroke-linejoin="round" stroke-linecap="round"/>
<g fill="#5bb080"><rect x="5.0" y="680.1" width="5" height="12.5"/><rect x="12.0" y="682.8" width="5" height="9.8"/><rect x="26.0" y="678.3" width="5" height="14.3"/><rect x="33.0" y="664.9" width="5" height="27.7"/><rect x="40.0" y="674.2" width="5" height="18.4"/><rect x="54.0" y="681.0" width="5" height="11.6"/><rect x="68.0" y="683.1" width="5" height="9.5"/><rect x="75.0" y="674.2" width="5" height="18.4"/><rect x="89.0" y="679.2" width="5" height="13.4"/><rect x="96.0" y="675.6" width="5" height="17.0"/><rect x="110.0" y="641.2" width="5" height="51.4"/><rect x="131.0" y="618.9" width="5" height="73.7"/><rect x="138.0" y="667.2" width="5" height="25.4"/><rect x="152.0" y="676.1" width="5" height="16.5"/><rect x="159.0" y="670.2" width="5" height="22.4"/><rect x="173.0" y="670.2" width="5" height="22.4"/><rect x="208.0" y="676.1" width="5" height="16.5"/><rect x="215.0" y="672.4" width="5" height="20.2"/><rect x="229.0" y="675.1" width="5" height="17.5"/><rect x="264.0" y="678.3" width="5" height="14.3"/><rect x="271.0" y="676.5" width="5" height="16.1"/><rect x="299.0" y="670.8" width="5" height="21.8"/><rect x="313.0" y="676.1" width="5" height="16.5"/><rect x="327.0" y="679.2" width="5" height="13.4"/><rect x="334.0" y="677.4" width="5" height="15.2"/><rect x="362.0" y="677.7" width="5" height="14.9"/><rect x="376.0" y="681.9" width="5" height="10.7"/><rect x="390.0" y="665.2" width="5" height="27.4"/><rect x="404.0" y="676.1" width="5" height="16.5"/><rect x="411.0" y="674.2" width="5" height="18.4"/><rect x="418.0" y="681.0" width="5" height="11.6"/><rect x="425.0" y="678.8" width="5" height="13.8"/><rect x="439.0" y="681.0" width="5" height="11.6"/><rect x="453.0" y="681.0" width="5" height="11.6"/><rect x="460.0" y="616.0" width="5" height="76.6"/><rect x="488.0" y="683.1" width="5" height="9.5"/><rect x="509.0" y="679.2" width="5" height="13.4"/><rect x="516.0" y="672.0" width="5" height="20.6"/><rect x="530.0" y="680.1" width="5" height="12.5"/><rect x="558.0" y="680.1" width="5" height="12.5"/><rect x="572.0" y="681.9" width="5" height="10.7"/><rect x="593.0" y="672.0" width="5" height="20.6"/><rect x="607.0" y="680.1" width="5" height="12.5"/><rect x="614.0" y="680.1" width="5" height="12.5"/><rect x="621.0" y="679.2" width="5" height="13.4"/><rect x="642.0" y="677.7" width="5" height="14.9"/><rect x="649.0" y="678.8" width="5" height="13.8"/><rect x="663.0" y="680.1" width="5" height="12.5"/><rect x="670.0" y="676.1" width="5" height="16.5"/><rect x="684.0" y="671.1" width="5" height="21.5"/><rect x="691.0" y="675.2" width="5" height="17.4"/><rect x="698.0" y="672.4" width="5" height="20.2"/><rect x="712.0" y="677.4" width="5" height="15.2"/><rect x="726.0" y="680.1" width="5" height="12.5"/><rect x="754.0" y="680.1" width="5" height="12.5"/><rect x="775.0" y="679.2" width="5" height="13.4"/><rect x="789.0" y="674.2" width="5" height="18.4"/><rect x="803.0" y="681.0" width="5" height="11.6"/><rect x="817.0" y="687.2" width="5" height="5.4"/><rect x="824.0" y="664.0" width="5" height="28.6"/><rect x="831.0" y="679.2" width="5" height="13.4"/><rect x="838.0" y="678.3" width="5" height="14.3"/><rect x="845.0" y="666.1" width="5" height="26.5"/><rect x="852.0" y="675.2" width="5" height="17.4"/><rect x="866.0" y="677.0" width="5" height="15.6"/><rect x="894.0" y="684.2" width="5" height="8.4"/><rect x="908.0" y="677.7" width="5" height="14.9"/><rect x="915.0" y="674.2" width="5" height="18.4"/><rect x="922.0" y="678.3" width="5" height="14.3"/><rect x="929.0" y="675.2" width="5" height="17.4"/><rect x="936.0" y="670.2" width="5" height="22.4"/><rect x="943.0" y="664.0" width="5" height="28.6"/><rect x="950.0" y="674.2" width="5" height="18.4"/><rect x="971.0" y="678.8" width="5" height="13.8"/><rect x="978.0" y="677.7" width="5" height="14.9"/><rect x="999.0" y="670.2" width="5" height="22.4"/><rect x="1006.0" y="672.0" width="5" height="20.6"/><rect x="1034.0" y="671.1" width="5" height="21.5"/><rect x="1062.0" y="675.1" width="5" height="17.5"/><rect x="1069.0" y="674.2" width="5" height="18.4"/><rect x="1083.0" y="675.1" width="5" height="17.5"/><rect x="1090.0" y="681.9" width="5" height="10.7"/><rect x="1104.0" y="646.1" width="5" height="46.5"/><rect x="1125.0" y="668.8" width="5" height="23.8"/><rect x="1132.0" y="668.1" width="5" height="24.5"/><rect x="1139.0" y="677.0" width="5" height="15.6"/><rect x="1146.0" y="668.8" width="5" height="23.8"/><rect x="1153.0" y="678.8" width="5" height="13.8"/><rect x="1160.0" y="681.9" width="5" height="10.7"/><rect x="1167.0" y="680.1" width="5" height="12.5"/><rect x="1181.0" y="678.8" width="5" height="13.8"/><rect x="1195.0" y="672.9" width="5" height="19.7"/><rect x="1223.0" y="677.7" width="5" height="14.9"/><rect x="1230.0" y="678.8" width="5" height="13.8"/><rect x="1258.0" y="671.1" width="5" height="21.5"/><rect x="1265.0" y="671.1" width="5" height="21.5"/><rect x="1279.0" y="672.4" width="5" height="20.2"/><rect x="1293.0" y="678.8" width="5" height="13.8"/><rect x="1307.0" y="671.1" width="5" height="21.5"/><rect x="1335.0" y="677.7" width="5" height="14.9"/><rect x="1342.0" y="680.1" width="5" height="12.5"/><rect x="1363.0" y="675.2" width="5" height="17.4"/><rect x="1370.0" y="678.3" width="5" height="14.3"/><rect x="1391.0" y="680.1" width="5" height="12.5"/><rect x="1433.0" y="658.1" width="5" height="34.5"/><rect x="1454.0" y="665.2" width="5" height="27.4"/><rect x="1461.0" y="671.1" width="5" height="21.5"/><rect x="1468.0" y="648.2" width="5" height="44.4"/><rect x="1482.0" y="574.0" width="5" height="118.6"/><rect x="1489.0" y="658.1" width="5" height="34.5"/><rect x="1510.0" y="681.9" width="5" height="10.7"/><rect x="1517.0" y="671.1" width="5" height="21.5"/><rect x="1545.0" y="676.1" width="5" height="16.5"/><rect x="1573.0" y="677.0" width="5" height="15.6"/><rect x="1594.0" y="675.1" width="5" height="17.5"/><rect x="1608.0" y="666.1" width="5" height="26.5"/><rect x="1615.0" y="652.0" width="5" height="40.6"/><rect x="1643.0" y="676.1" width="5" height="16.5"/><rect x="1650.0" y="681.3" width="5" height="11.3"/><rect x="1657.0" y="684.2" width="5" height="8.4"/><rect x="1664.0" y="685.1" width="5" height="7.5"/><rect x="1685.0" y="680.1" width="5" height="12.5"/><rect x="1713.0" y="674.2" width="5" height="18.4"/><rect x="1727.0" y="683.1" width="5" height="9.5"/><rect x="1748.0" y="686.0" width="5" height="6.6"/><rect x="1755.0" y="681.9" width="5" height="10.7"/><rect x="1762.0" y="690.3" width="5" height="2.3"/></g>
<g fill="#cf5a4c"><rect x="19.0" y="677.4" width="5" height="15.2"/><rect x="47.0" y="662.2" width="5" height="30.4"/><rect x="61.0" y="680.1" width="5" height="12.5"/><rect x="82.0" y="681.9" width="5" height="10.7"/><rect x="103.0" y="670.2" width="5" height="22.4"/><rect x="117.0" y="655.0" width="5" height="37.6"/><rect x="124.0" y="671.7" width="5" height="20.9"/><rect x="145.0" y="678.3" width="5" height="14.3"/><rect x="166.0" y="677.0" width="5" height="15.6"/><rect x="180.0" y="672.0" width="5" height="20.6"/><rect x="187.0" y="672.4" width="5" height="20.2"/><rect x="194.0" y="670.2" width="5" height="22.4"/><rect x="201.0" y="664.9" width="5" height="27.7"/><rect x="222.0" y="676.1" width="5" height="16.5"/><rect x="236.0" y="680.1" width="5" height="12.5"/><rect x="243.0" y="684.2" width="5" height="8.4"/><rect x="250.0" y="680.1" width="5" height="12.5"/><rect x="257.0" y="672.0" width="5" height="20.6"/><rect x="278.0" y="675.2" width="5" height="17.4"/><rect x="285.0" y="659.0" width="5" height="33.6"/><rect x="292.0" y="621.0" width="5" height="71.6"/><rect x="306.0" y="678.3" width="5" height="14.3"/><rect x="320.0" y="675.2" width="5" height="17.4"/><rect x="341.0" y="674.2" width="5" height="18.4"/><rect x="348.0" y="680.1" width="5" height="12.5"/><rect x="355.0" y="672.0" width="5" height="20.6"/><rect x="369.0" y="675.2" width="5" height="17.4"/><rect x="383.0" y="658.1" width="5" height="34.5"/><rect x="397.0" y="676.1" width="5" height="16.5"/><rect x="432.0" y="677.7" width="5" height="14.9"/><rect x="446.0" y="674.2" width="5" height="18.4"/><rect x="467.0" y="609.9" width="5" height="82.7"/><rect x="474.0" y="681.9" width="5" height="10.7"/><rect x="481.0" y="680.1" width="5" height="12.5"/><rect x="495.0" y="675.2" width="5" height="17.4"/><rect x="502.0" y="677.4" width="5" height="15.2"/><rect x="523.0" y="673.1" width="5" height="19.5"/><rect x="537.0" y="681.0" width="5" height="11.6"/><rect x="544.0" y="684.2" width="5" height="8.4"/><rect x="551.0" y="680.1" width="5" height="12.5"/><rect x="565.0" y="680.1" width="5" height="12.5"/><rect x="579.0" y="683.1" width="5" height="9.5"/><rect x="586.0" y="658.1" width="5" height="34.5"/><rect x="600.0" y="681.0" width="5" height="11.6"/><rect x="628.0" y="683.1" width="5" height="9.5"/><rect x="635.0" y="607.1" width="5" height="85.5"/><rect x="656.0" y="684.2" width="5" height="8.4"/><rect x="677.0" y="681.9" width="5" height="10.7"/><rect x="705.0" y="676.1" width="5" height="16.5"/><rect x="719.0" y="680.1" width="5" height="12.5"/><rect x="733.0" y="683.1" width="5" height="9.5"/><rect x="740.0" y="678.8" width="5" height="13.8"/><rect x="747.0" y="677.7" width="5" height="14.9"/><rect x="761.0" y="680.1" width="5" height="12.5"/><rect x="768.0" y="680.1" width="5" height="12.5"/><rect x="782.0" y="632.1" width="5" height="60.5"/><rect x="796.0" y="680.1" width="5" height="12.5"/><rect x="810.0" y="685.1" width="5" height="7.5"/><rect x="859.0" y="664.9" width="5" height="27.7"/><rect x="873.0" y="676.1" width="5" height="16.5"/><rect x="880.0" y="678.8" width="5" height="13.8"/><rect x="887.0" y="680.1" width="5" height="12.5"/><rect x="901.0" y="674.2" width="5" height="18.4"/><rect x="957.0" y="674.2" width="5" height="18.4"/><rect x="964.0" y="672.4" width="5" height="20.2"/><rect x="985.0" y="571.8" width="5" height="120.8"/><rect x="992.0" y="631.2" width="5" height="61.4"/><rect x="1013.0" y="676.1" width="5" height="16.5"/><rect x="1020.0" y="671.1" width="5" height="21.5"/><rect x="1027.0" y="672.4" width="5" height="20.2"/><rect x="1041.0" y="667.0" width="5" height="25.6"/><rect x="1048.0" y="681.0" width="5" height="11.6"/><rect x="1055.0" y="652.0" width="5" height="40.6"/><rect x="1076.0" y="678.8" width="5" height="13.8"/><rect x="1097.0" y="674.2" width="5" height="18.4"/><rect x="1111.0" y="662.2" width="5" height="30.4"/><rect x="1118.0" y="660.0" width="5" height="32.6"/><rect x="1174.0" y="675.2" width="5" height="17.4"/><rect x="1188.0" y="679.2" width="5" height="13.4"/><rect x="1202.0" y="676.1" width="5" height="16.5"/><rect x="1209.0" y="681.0" width="5" height="11.6"/><rect x="1216.0" y="676.1" width="5" height="16.5"/><rect x="1237.0" y="681.0" width="5" height="11.6"/><rect x="1244.0" y="674.2" width="5" height="18.4"/><rect x="1251.0" y="671.1" width="5" height="21.5"/><rect x="1272.0" y="667.0" width="5" height="25.6"/><rect x="1286.0" y="677.7" width="5" height="14.9"/><rect x="1300.0" y="664.0" width="5" height="28.6"/><rect x="1314.0" y="680.1" width="5" height="12.5"/><rect x="1321.0" y="673.8" width="5" height="18.8"/><rect x="1328.0" y="668.8" width="5" height="23.8"/><rect x="1349.0" y="678.8" width="5" height="13.8"/><rect x="1356.0" y="676.1" width="5" height="16.5"/><rect x="1377.0" y="676.1" width="5" height="16.5"/><rect x="1384.0" y="681.0" width="5" height="11.6"/><rect x="1398.0" y="673.8" width="5" height="18.8"/><rect x="1405.0" y="664.9" width="5" height="27.7"/><rect x="1412.0" y="642.0" width="5" height="50.6"/><rect x="1419.0" y="663.1" width="5" height="29.5"/><rect x="1426.0" y="641.1" width="5" height="51.5"/><rect x="1440.0" y="667.0" width="5" height="25.6"/><rect x="1447.0" y="664.9" width="5" height="27.7"/><rect x="1475.0" y="562.9" width="5" height="129.7"/><rect x="1496.0" y="676.1" width="5" height="16.5"/><rect x="1503.0" y="671.1" width="5" height="21.5"/><rect x="1524.0" y="666.1" width="5" height="26.5"/><rect x="1531.0" y="671.1" width="5" height="21.5"/><rect x="1538.0" y="677.0" width="5" height="15.6"/><rect x="1552.0" y="686.0" width="5" height="6.6"/><rect x="1559.0" y="677.7" width="5" height="14.9"/><rect x="1566.0" y="671.1" width="5" height="21.5"/><rect x="1580.0" y="678.3" width="5" height="14.3"/><rect x="1587.0" y="680.1" width="5" height="12.5"/><rect x="1601.0" y="678.8" width="5" height="13.8"/><rect x="1622.0" y="675.1" width="5" height="17.5"/><rect x="1629.0" y="673.5" width="5" height="19.1"/><rect x="1636.0" y="677.0" width="5" height="15.6"/><rect x="1671.0" y="684.2" width="5" height="8.4"/><rect x="1678.0" y="678.8" width="5" height="13.8"/><rect x="1692.0" y="677.0" width="5" height="15.6"/><rect x="1699.0" y="672.0" width="5" height="20.6"/><rect x="1706.0" y="680.1" width="5" height="12.5"/><rect x="1720.0" y="675.6" width="5" height="17.0"/><rect x="1734.0" y="684.2" width="5" height="8.4"/><rect x="1741.0" y="686.0" width="5" height="6.6"/></g>
<path d="M7.5 676.4 L14.5 677.1 L21.5 677.5 L28.5 677.6 L35.5 676.6 L42.5 676.3 L49.5 674.7 L56.5 675.2 L63.5 675.6 L70.5 676.4 L77.5 675.8 L84.5 675.7 L91.5 675.9 L98.5 675.6 L105.5 676.2 L112.5 672.9 L119.5 672.1 L126.5 671.2 L133.5 665.1 L140.5 663.5 L147.5 663.9 L154.5 663.3 L161.5 662.4 L168.5 662.6 L175.5 662.6 L182.5 665.7 L189.5 667.4 L196.5 667.2 L203.5 671.9 L210.5 672.7 L217.5 672.1 L224.5 672.1 L231.5 672.6 L238.5 673.0 L245.5 674.4 L252.5 675.2 L259.5 675.1 L266.5 675.9 L273.5 677.1 L280.5 677.0 L287.5 675.7 L294.5 670.1 L301.5 669.7 L308.5 669.5 L315.5 668.7 L322.5 668.2 L329.5 669.0 L336.5 668.9 L343.5 668.6 L350.5 669.1 L357.5 670.4 L364.5 676.1 L371.5 676.5 L378.5 676.9 L385.5 675.1 L392.5 674.1 L399.5 673.8 L406.5 673.7 L413.5 673.7 L420.5 673.8 L427.5 674.4 L434.5 674.4 L441.5 675.0 L448.5 674.2 L455.5 676.5 L462.5 671.6 L469.5 665.0 L476.5 665.6 L483.5 666.2 L490.5 666.4 L497.5 666.0 L504.5 666.0 L511.5 665.8 L518.5 665.6 L525.5 664.8 L532.5 671.2 L539.5 678.3 L546.5 678.5 L553.5 678.5 L560.5 678.2 L567.5 678.7 L574.5 679.2 L581.5 679.6 L588.5 678.2 L595.5 678.1 L602.5 678.2 L609.5 678.1 L616.5 677.7 L623.5 677.6 L630.5 677.9 L637.5 670.6 L644.5 670.1 L651.5 669.7 L658.5 672.3 L665.5 673.1 L672.5 672.6 L679.5 672.8 L686.5 671.9 L693.5 671.5 L700.5 670.5 L707.5 677.4 L714.5 677.3 L721.5 677.5 L728.5 677.1 L735.5 677.4 L742.5 677.6 L749.5 677.2 L756.5 678.1 L763.5 678.6 L770.5 679.4 L777.5 679.7 L784.5 675.1 L791.5 674.6 L798.5 674.6 L805.5 674.3 L812.5 675.0 L819.5 675.9 L826.5 674.3 L833.5 674.2 L840.5 674.0 L847.5 672.7 L854.5 677.0 L861.5 676.1 L868.5 675.8 L875.5 675.3 L882.5 674.7 L889.5 674.0 L896.5 676.0 L903.5 675.5 L910.5 675.4 L917.5 676.2 L924.5 676.6 L931.5 677.6 L938.5 676.9 L945.5 675.7 L952.5 675.2 L959.5 674.6 L966.5 673.5 L973.5 673.9 L980.5 673.9 L987.5 663.7 L994.5 659.0 L1001.5 658.5 L1008.5 658.6 L1015.5 659.9 L1022.5 659.6 L1029.5 659.4 L1036.5 659.2 L1043.5 658.1 L1050.5 658.4 L1057.5 666.4 L1064.5 670.8 L1071.5 671.2 L1078.5 671.9 L1085.5 671.8 L1092.5 672.9 L1099.5 673.0 L1106.5 670.5 L1113.5 670.1 L1120.5 668.0 L1127.5 669.6 L1134.5 668.9 L1141.5 669.2 L1148.5 668.2 L1155.5 668.6 L1162.5 668.6 L1169.5 669.2 L1176.5 672.1 L1183.5 673.8 L1190.5 675.7 L1197.5 676.1 L1204.5 676.9 L1211.5 677.3 L1218.5 678.0 L1225.5 677.9 L1232.5 677.6 L1239.5 677.7 L1246.5 677.6 L1253.5 676.8 L1260.5 676.0 L1267.5 675.8 L1274.5 674.9 L1281.5 674.1 L1288.5 674.2 L1295.5 674.3 L1302.5 672.8 L1309.5 671.9 L1316.5 672.4 L1323.5 672.7 L1330.5 672.5 L1337.5 673.1 L1344.5 674.5 L1351.5 675.1 L1358.5 674.9 L1365.5 674.6 L1372.5 676.0 L1379.5 676.5 L1386.5 676.6 L1393.5 677.2 L1400.5 677.7 L1407.5 676.4 L1414.5 672.6 L1421.5 671.1 L1428.5 667.6 L1435.5 665.9 L1442.5 664.7 L1449.5 663.6 L1456.5 662.0 L1463.5 661.1 L1470.5 658.6 L1477.5 648.4 L1484.5 641.6 L1491.5 641.1 L1498.5 644.6 L1505.5 645.9 L1512.5 647.4 L1519.5 648.0 L1526.5 648.1 L1533.5 648.1 L1540.5 650.9 L1547.5 662.3 L1554.5 673.5 L1561.5 675.4 L1568.5 674.9 L1575.5 675.5 L1582.5 675.1 L1589.5 676.1 L1596.5 677.0 L1603.5 677.7 L1610.5 676.6 L1617.5 674.2 L1624.5 673.1 L1631.5 672.7 L1638.5 673.3 L1645.5 673.2 L1652.5 673.5 L1659.5 673.9 L1666.5 674.9 L1673.5 675.5 L1680.5 676.7 L1687.5 679.5 L1694.5 679.7 L1701.5 679.6 L1708.5 679.9 L1715.5 679.7 L1722.5 679.1 L1729.5 679.0 L1736.5 678.9 L1743.5 679.1 L1750.5 679.8 L1757.5 680.0 L1764.5 681.3" fill="none" stroke="#e9cb55" stroke-width="1.2" stroke-linejoin="round" stroke-linecap="round"/>
<path d="M7.5 677.1 L14.5 677.9 L21.5 678.3 L28.5 678.6 L35.5 676.7 L42.5 675.5 L49.5 671.4 L56.5 672.1 L63.5 672.5 L70.5 676.1 L77.5 676.1 L84.5 680.1 L91.5 679.7 L98.5 678.8 L105.5 676.2 L112.5 669.6 L119.5 664.2 L126.5 662.7 L133.5 651.4 L140.5 650.8 L147.5 658.2 L154.5 662.4 L161.5 662.1 L168.5 673.8 L175.5 674.4 L182.5 673.1 L189.5 672.4 L196.5 672.4 L203.5 669.9 L210.5 671.1 L217.5 671.2 L224.5 671.9 L231.5 672.9 L238.5 676.0 L245.5 677.6 L252.5 679.1 L259.5 678.3 L266.5 678.9 L273.5 678.2 L280.5 676.4 L287.5 672.2 L294.5 662.0 L301.5 660.5 L308.5 660.9 L315.5 661.0 L322.5 664.3 L329.5 675.9 L336.5 677.2 L343.5 676.4 L350.5 677.2 L357.5 676.6 L364.5 676.3 L371.5 675.8 L378.5 677.4 L385.5 673.0 L392.5 671.6 L399.5 671.3 L406.5 671.5 L413.5 669.9 L420.5 674.5 L427.5 677.2 L434.5 677.6 L441.5 678.5 L448.5 678.5 L455.5 678.5 L462.5 666.0 L469.5 652.4 L476.5 652.6 L483.5 653.8 L490.5 654.2 L497.5 666.0 L504.5 679.5 L511.5 679.0 L518.5 677.4 L525.5 675.4 L532.5 676.4 L539.5 677.1 L546.5 678.1 L553.5 679.7 L560.5 681.1 L567.5 681.1 L574.5 681.3 L581.5 681.1 L588.5 676.7 L595.5 675.0 L602.5 675.2 L609.5 674.9 L616.5 674.3 L623.5 678.5 L630.5 680.7 L637.5 665.9 L644.5 665.4 L651.5 665.2 L658.5 666.2 L665.5 665.6 L672.5 679.4 L679.5 680.2 L686.5 678.7 L693.5 676.9 L700.5 675.3 L707.5 675.3 L714.5 674.4 L721.5 676.2 L728.5 677.2 L735.5 679.4 L742.5 679.9 L749.5 680.0 L756.5 680.0 L763.5 680.0 L770.5 679.4 L777.5 679.4 L784.5 670.3 L791.5 669.1 L798.5 669.1 L805.5 669.3 L812.5 670.5 L819.5 681.5 L826.5 679.5 L833.5 679.3 L840.5 678.8 L847.5 675.0 L854.5 672.6 L861.5 672.7 L868.5 672.3 L875.5 671.9 L882.5 674.4 L889.5 675.4 L896.5 679.2 L903.5 678.7 L910.5 679.0 L917.5 678.1 L924.5 677.7 L931.5 675.9 L938.5 675.1 L945.5 672.4 L952.5 672.4 L959.5 671.6 L966.5 671.0 L973.5 672.7 L980.5 675.5 L987.5 655.0 L994.5 646.4 L1001.5 645.9 L1008.5 644.6 L1015.5 644.3 L1022.5 664.1 L1029.5 672.4 L1036.5 672.5 L1043.5 671.5 L1050.5 672.5 L1057.5 668.7 L1064.5 669.2 L1071.5 669.9 L1078.5 672.2 L1085.5 671.0 L1092.5 677.0 L1099.5 676.8 L1106.5 671.2 L1113.5 667.9 L1120.5 664.9 L1127.5 662.3 L1134.5 661.0 L1141.5 667.2 L1148.5 668.5 L1155.5 672.3 L1162.5 674.9 L1169.5 677.3 L1176.5 677.0 L1183.5 679.0 L1190.5 679.0 L1197.5 677.2 L1204.5 676.4 L1211.5 677.6 L1218.5 677.1 L1225.5 676.8 L1232.5 677.9 L1239.5 678.9 L1246.5 677.6 L1253.5 676.6 L1260.5 675.2 L1267.5 673.7 L1274.5 670.9 L1281.5 670.5 L1288.5 671.9 L1295.5 673.4 L1302.5 672.0 L1309.5 672.8 L1316.5 674.3 L1323.5 673.6 L1330.5 671.6 L1337.5 674.3 L1344.5 676.1 L1351.5 675.8 L1358.5 676.3 L1365.5 677.6 L1372.5 677.7 L1379.5 676.9 L1386.5 677.3 L1393.5 678.1 L1400.5 677.9 L1407.5 675.2 L1414.5 668.4 L1421.5 664.8 L1428.5 657.0 L1435.5 653.8 L1442.5 654.3 L1449.5 658.8 L1456.5 659.3 L1463.5 665.3 L1470.5 663.3 L1477.5 642.5 L1484.5 624.3 L1491.5 622.9 L1498.5 623.9 L1505.5 628.4 L1512.5 652.2 L1519.5 671.7 L1526.5 673.3 L1533.5 672.3 L1540.5 673.4 L1547.5 672.3 L1554.5 675.3 L1561.5 677.6 L1568.5 677.6 L1575.5 677.6 L1582.5 678.0 L1589.5 676.8 L1596.5 676.3 L1603.5 677.9 L1610.5 675.7 L1617.5 670.4 L1624.5 669.4 L1631.5 669.1 L1638.5 668.7 L1645.5 670.7 L1652.5 676.6 L1659.5 678.4 L1666.5 680.7 L1673.5 682.2 L1680.5 682.7 L1687.5 682.5 L1694.5 681.0 L1701.5 678.4 L1708.5 677.6 L1715.5 676.7 L1722.5 675.8 L1729.5 677.0 L1736.5 679.4 L1743.5 680.6 L1750.5 683.0 L1757.5 684.2 L1764.5 685.7" fill="none" stroke="#68c7bf" stroke-width="1.2" stroke-linejoin="round" stroke-linecap="round"/>
<g fill="#5bb080"><rect x="33.0" y="780.2" width="5" height="1.8"/><rect x="47.0" y="778.4" width="5" height="3.6"/><rect x="54.0" y="779.3" width="5" height="2.7"/><rect x="68.0" y="780.8" width="5" height="1.2"/><rect x="82.0" y="779.3" width="5" height="2.7"/><rect x="103.0" y="775.2" width="5" height="6.8"/><rect x="131.0" y="743.9" width="5" height="38.1"/><rect x="138.0" y="745.3" width="5" height="36.7"/><rect x="145.0" y="750.1" width="5" height="31.9"/><rect x="152.0" y="753.0" width="5" height="29.0"/><rect x="159.0" y="756.1" width="5" height="25.9"/><rect x="166.0" y="761.1" width="5" height="20.9"/><rect x="173.0" y="762.3" width="5" height="19.7"/><rect x="180.0" y="768.0" width="5" height="14.0"/><rect x="187.0" y="776.1" width="5" height="5.9"/><rect x="481.0" y="752.1" width="5" height="29.9"/><rect x="495.0" y="752.1" width="5" height="29.9"/><rect x="502.0" y="756.1" width="5" height="25.9"/><rect x="509.0" y="757.3" width="5" height="24.7"/><rect x="537.0" y="750.1" width="5" height="31.9"/><rect x="544.0" y="754.3" width="5" height="27.7"/><rect x="551.0" y="760.2" width="5" height="21.8"/><rect x="558.0" y="764.1" width="5" height="17.9"/><rect x="565.0" y="768.0" width="5" height="14.0"/><rect x="572.0" y="769.1" width="5" height="12.9"/><rect x="579.0" y="773.1" width="5" height="8.9"/><rect x="684.0" y="780.2" width="5" height="1.8"/><rect x="719.0" y="766.3" width="5" height="15.7"/><rect x="726.0" y="767.3" width="5" height="14.7"/><rect x="733.0" y="770.9" width="5" height="11.1"/><rect x="740.0" y="772.5" width="5" height="9.5"/><rect x="747.0" y="775.7" width="5" height="6.3"/><rect x="754.0" y="777.2" width="5" height="4.8"/><rect x="761.0" y="778.4" width="5" height="3.6"/><rect x="768.0" y="780.7" width="5" height="1.0"/><rect x="775.0" y="781.0" width="5" height="1.0"/><rect x="859.0" y="765.0" width="5" height="17.0"/><rect x="873.0" y="766.4" width="5" height="15.6"/><rect x="880.0" y="770.4" width="5" height="11.6"/><rect x="887.0" y="773.1" width="5" height="8.9"/><rect x="894.0" y="773.1" width="5" height="8.9"/><rect x="901.0" y="778.4" width="5" height="3.6"/><rect x="908.0" y="780.2" width="5" height="1.8"/><rect x="957.0" y="773.4" width="5" height="8.6"/><rect x="964.0" y="777.2" width="5" height="4.8"/><rect x="971.0" y="778.4" width="5" height="3.6"/><rect x="1118.0" y="781.0" width="5" height="1.0"/><rect x="1174.0" y="762.3" width="5" height="19.7"/><rect x="1181.0" y="763.2" width="5" height="18.8"/><rect x="1188.0" y="765.0" width="5" height="17.0"/><rect x="1195.0" y="766.3" width="5" height="15.7"/><rect x="1202.0" y="769.1" width="5" height="12.9"/><rect x="1209.0" y="773.1" width="5" height="8.9"/><rect x="1216.0" y="777.5" width="5" height="4.5"/><rect x="1223.0" y="778.4" width="5" height="3.6"/><rect x="1230.0" y="779.0" width="5" height="3.0"/><rect x="1370.0" y="781.0" width="5" height="1.0"/><rect x="1503.0" y="772.5" width="5" height="9.5"/><rect x="1531.0" y="767.3" width="5" height="14.7"/><rect x="1538.0" y="769.1" width="5" height="12.9"/><rect x="1545.0" y="769.1" width="5" height="12.9"/><rect x="1552.0" y="770.7" width="5" height="11.3"/><rect x="1559.0" y="772.2" width="5" height="9.8"/><rect x="1566.0" y="775.2" width="5" height="6.8"/><rect x="1580.0" y="775.2" width="5" height="6.8"/><rect x="1587.0" y="775.2" width="5" height="6.8"/><rect x="1601.0" y="774.5" width="5" height="7.5"/><rect x="1629.0" y="763.6" width="5" height="18.4"/><rect x="1636.0" y="765.5" width="5" height="16.5"/><rect x="1643.0" y="766.4" width="5" height="15.6"/><rect x="1650.0" y="768.6" width="5" height="13.4"/><rect x="1664.0" y="768.6" width="5" height="13.4"/><rect x="1671.0" y="770.9" width="5" height="11.1"/><rect x="1678.0" y="773.4" width="5" height="8.6"/><rect x="1685.0" y="773.4" width="5" height="8.6"/><rect x="1692.0" y="775.2" width="5" height="6.8"/><rect x="1699.0" y="778.4" width="5" height="3.6"/><rect x="1706.0" y="780.5" width="5" height="1.5"/><rect x="1762.0" y="780.7" width="5" height="1.0"/></g>
<g fill="#cf5a4c"><rect x="19.0" y="782.0" width="5" height="12.5"/><rect x="61.0" y="781.5" width="5" height="1.0"/><rect x="194.0" y="782.0" width="5" height="6.6"/><rect x="201.0" y="782.0" width="5" height="13.4"/><rect x="208.0" y="782.0" width="5" height="18.8"/><rect x="215.0" y="782.0" width="5" height="20.6"/><rect x="222.0" y="782.0" width="5" height="23.6"/><rect x="250.0" y="782.0" width="5" height="19.3"/><rect x="257.0" y="782.0" width="5" height="22.7"/><rect x="278.0" y="782.0" width="5" height="12.5"/><rect x="285.0" y="782.0" width="5" height="28.6"/><rect x="292.0" y="782.0" width="5" height="50.5"/><rect x="299.0" y="782.0" width="5" height="60.3"/><rect x="306.0" y="782.0" width="5" height="65.3"/><rect x="383.0" y="782.0" width="5" height="16.6"/><rect x="390.0" y="782.0" width="5" height="19.7"/><rect x="397.0" y="782.0" width="5" height="19.7"/><rect x="586.0" y="782.0" width="5" height="3.6"/><rect x="593.0" y="782.0" width="5" height="10.7"/><rect x="600.0" y="782.0" width="5" height="14.9"/><rect x="607.0" y="782.0" width="5" height="16.6"/><rect x="656.0" y="782.0" width="5" height="7.2"/><rect x="782.0" y="782.0" width="5" height="6.6"/><rect x="789.0" y="782.0" width="5" height="10.7"/><rect x="796.0" y="782.0" width="5" height="13.8"/><rect x="803.0" y="782.0" width="5" height="13.8"/><rect x="810.0" y="782.0" width="5" height="13.8"/><rect x="838.0" y="782.0" width="5" height="1.2"/><rect x="985.0" y="782.0" width="5" height="1.5"/><rect x="992.0" y="782.0" width="5" height="12.5"/><rect x="999.0" y="782.0" width="5" height="16.5"/><rect x="1006.0" y="782.0" width="5" height="18.4"/><rect x="1013.0" y="782.0" width="5" height="20.6"/><rect x="1020.0" y="782.0" width="5" height="20.6"/><rect x="1027.0" y="782.0" width="5" height="22.7"/><rect x="1055.0" y="782.0" width="5" height="24.5"/><rect x="1062.0" y="782.0" width="5" height="24.5"/><rect x="1111.0" y="781.5" width="5" height="1.0"/><rect x="1237.0" y="781.5" width="5" height="1.0"/><rect x="1244.0" y="782.0" width="5" height="2.7"/><rect x="1251.0" y="782.0" width="5" height="5.7"/><rect x="1258.0" y="782.0" width="5" height="6.6"/><rect x="1272.0" y="782.0" width="5" height="5.7"/><rect x="1286.0" y="782.0" width="5" height="3.0"/><rect x="1293.0" y="782.0" width="5" height="1.5"/><rect x="1300.0" y="782.0" width="5" height="5.4"/><rect x="1307.0" y="782.0" width="5" height="7.2"/><rect x="1314.0" y="782.0" width="5" height="8.0"/><rect x="1321.0" y="782.0" width="5" height="11.3"/><rect x="1328.0" y="782.0" width="5" height="14.3"/><rect x="1356.0" y="782.0" width="5" height="4.5"/><rect x="1363.0" y="782.0" width="5" height="1.5"/><rect x="1377.0" y="782.0" width="5" height="1.0"/><rect x="1384.0" y="782.0" width="5" height="1.2"/><rect x="1391.0" y="782.0" width="5" height="1.2"/><rect x="1398.0" y="782.0" width="5" height="1.5"/><rect x="1405.0" y="782.0" width="5" height="5.4"/><rect x="1412.0" y="782.0" width="5" height="15.6"/><rect x="1419.0" y="782.0" width="5" height="21.5"/><rect x="1426.0" y="782.0" width="5" height="31.3"/><rect x="1433.0" y="782.0" width="5" height="31.7"/><rect x="1440.0" y="782.0" width="5" height="32.6"/><rect x="1713.0" y="782.0" width="5" height="1.0"/><rect x="1720.0" y="782.0" width="5" height="3.6"/><rect x="1727.0" y="782.0" width="5" height="4.5"/><rect x="1734.0" y="782.0" width="5" height="5.7"/><rect x="1741.0" y="782.0" width="5" height="5.7"/></g>
<g fill="#fff" stroke="#5f8a76" stroke-width="1"><rect x="40.5" y="775.3" width="4" height="6.2"/><rect x="75.5" y="779.8" width="4" height="1.7"/><rect x="89.5" y="778.9" width="4" height="2.6"/><rect x="96.5" y="774.8" width="4" height="6.7"/><rect x="110.5" y="754.8" width="4" height="26.7"/><rect x="117.5" y="744.9" width="4" height="36.6"/><rect x="124.5" y="743.1" width="4" height="38.4"/><rect x="425.5" y="778.0" width="4" height="3.5"/><rect x="432.5" y="778.0" width="4" height="3.5"/><rect x="439.5" y="772.7" width="4" height="8.8"/><rect x="446.5" y="768.7" width="4" height="12.8"/><rect x="453.5" y="765.9" width="4" height="15.6"/><rect x="460.5" y="756.0" width="4" height="25.5"/><rect x="467.5" y="752.1" width="4" height="29.4"/><rect x="474.5" y="752.1" width="4" height="29.4"/><rect x="488.5" y="752.1" width="4" height="29.4"/><rect x="516.5" y="750.8" width="4" height="30.7"/><rect x="523.5" y="749.0" width="4" height="32.5"/><rect x="530.5" y="748.0" width="4" height="33.5"/><rect x="691.5" y="775.9" width="4" height="5.6"/><rect x="698.5" y="770.0" width="4" height="11.5"/><rect x="705.5" y="766.9" width="4" height="14.6"/><rect x="712.5" y="765.9" width="4" height="15.6"/><rect x="845.5" y="771.2" width="4" height="10.3"/><rect x="852.5" y="764.6" width="4" height="16.9"/><rect x="866.5" y="765.5" width="4" height="16.0"/><rect x="915.5" y="779.8" width="4" height="1.7"/><rect x="922.5" y="778.9" width="4" height="2.6"/><rect x="929.5" y="778.9" width="4" height="2.6"/><rect x="936.5" y="776.2" width="4" height="5.3"/><rect x="943.5" y="772.7" width="4" height="8.8"/><rect x="950.5" y="771.4" width="4" height="10.1"/><rect x="978.5" y="778.0" width="4" height="3.5"/><rect x="1125.5" y="778.4" width="4" height="3.1"/><rect x="1132.5" y="775.0" width="4" height="6.5"/><rect x="1139.5" y="771.4" width="4" height="10.1"/><rect x="1146.5" y="766.9" width="4" height="14.6"/><rect x="1153.5" y="764.1" width="4" height="17.4"/><rect x="1160.5" y="759.8" width="4" height="21.7"/><rect x="1167.5" y="758.0" width="4" height="23.5"/><rect x="1482.5" y="779.8" width="4" height="1.7"/><rect x="1489.5" y="775.9" width="4" height="5.6"/><rect x="1496.5" y="773.0" width="4" height="8.5"/><rect x="1510.5" y="771.8" width="4" height="9.7"/><rect x="1517.5" y="768.2" width="4" height="13.3"/><rect x="1524.5" y="766.0" width="4" height="15.5"/><rect x="1573.5" y="775.0" width="4" height="6.5"/><rect x="1594.5" y="775.0" width="4" height="6.5"/><rect x="1608.5" y="771.8" width="4" height="9.7"/><rect x="1615.5" y="766.0" width="4" height="15.5"/><rect x="1622.5" y="763.2" width="4" height="18.3"/><rect x="1657.5" y="767.8" width="4" height="13.7"/></g>
<g fill="#fff" stroke="#8e6a62" stroke-width="1"><rect x="5.5" y="782.5" width="4" height="14.6"/><rect x="12.5" y="782.5" width="4" height="11.5"/><rect x="26.5" y="782.5" width="4" height="5.6"/><rect x="229.5" y="782.5" width="4" height="18.3"/><rect x="236.5" y="782.5" width="4" height="17.4"/><rect x="243.5" y="782.5" width="4" height="16.4"/><rect x="264.5" y="782.5" width="4" height="17.4"/><rect x="271.5" y="782.5" width="4" height="11.5"/><rect x="313.5" y="782.5" width="4" height="61.6"/><rect x="320.5" y="782.5" width="4" height="57.2"/><rect x="327.5" y="782.5" width="4" height="48.2"/><rect x="334.5" y="782.5" width="4" height="38.4"/><rect x="341.5" y="782.5" width="4" height="29.4"/><rect x="348.5" y="782.5" width="4" height="23.5"/><rect x="355.5" y="782.5" width="4" height="21.4"/><rect x="362.5" y="782.5" width="4" height="16.4"/><rect x="369.5" y="782.5" width="4" height="12.1"/><rect x="376.5" y="782.5" width="4" height="8.5"/><rect x="404.5" y="782.5" width="4" height="15.6"/><rect x="411.5" y="782.5" width="4" height="8.5"/><rect x="418.5" y="782.5" width="4" height="1.7"/><rect x="614.5" y="782.5" width="4" height="12.4"/><rect x="621.5" y="782.5" width="4" height="9.7"/><rect x="628.5" y="782.5" width="4" height="7.4"/><rect x="635.5" y="782.5" width="4" height="7.4"/><rect x="642.5" y="782.5" width="4" height="5.6"/><rect x="649.5" y="782.5" width="4" height="5.3"/><rect x="663.5" y="782.5" width="4" height="5.3"/><rect x="670.5" y="782.5" width="4" height="3.5"/><rect x="677.5" y="782.5" width="4" height="2.6"/><rect x="817.5" y="782.5" width="4" height="11.5"/><rect x="824.5" y="782.5" width="4" height="10.3"/><rect x="831.5" y="782.5" width="4" height="7.4"/><rect x="1034.5" y="782.5" width="4" height="20.5"/><rect x="1041.5" y="782.5" width="4" height="19.6"/><rect x="1048.5" y="782.5" width="4" height="19.2"/><rect x="1069.5" y="782.5" width="4" height="22.8"/><rect x="1076.5" y="782.5" width="4" height="21.4"/><rect x="1083.5" y="782.5" width="4" height="17.4"/><rect x="1090.5" y="782.5" width="4" height="13.3"/><rect x="1097.5" y="782.5" width="4" height="11.5"/><rect x="1104.5" y="782.5" width="4" height="1.3"/><rect x="1265.5" y="782.5" width="4" height="2.6"/><rect x="1279.5" y="782.5" width="4" height="1.0"/><rect x="1335.5" y="782.5" width="4" height="7.0"/><rect x="1342.5" y="782.5" width="4" height="2.6"/><rect x="1349.5" y="782.5" width="4" height="1.3"/><rect x="1447.5" y="782.5" width="4" height="29.4"/><rect x="1454.5" y="782.5" width="4" height="26.4"/><rect x="1461.5" y="782.5" width="4" height="17.4"/><rect x="1468.5" y="782.5" width="4" height="8.3"/><rect x="1475.5" y="782.5" width="4" height="3.5"/><rect x="1748.5" y="782.5" width="4" height="4.0"/><rect x="1755.5" y="782.5" width="4" height="2.2"/></g>
<path d="M7.5 773.0 L14.5 774.8 L21.5 776.6 L28.5 776.1 L35.5 775.7 L42.5 774.3 L49.5 774.5 L56.5 774.6 L63.5 774.8 L70.5 774.5 L77.5 774.2 L84.5 773.9 L91.5 773.6 L98.5 772.9 L105.5 772.2 L112.5 768.7 L119.5 763.2 L126.5 757.8 L133.5 752.5 L140.5 748.9 L147.5 745.3 L154.5 741.8 L161.5 739.1 L168.5 736.4 L175.5 734.6 L182.5 732.8 L189.5 731.9 L196.5 733.7 L203.5 735.9 L210.5 738.2 L217.5 741.3 L224.5 744.4 L231.5 746.8 L238.5 749.3 L245.5 751.8 L252.5 754.3 L259.5 755.9 L266.5 757.5 L273.5 758.7 L280.5 760.0 L287.5 764.0 L294.5 770.9 L301.5 778.5 L308.5 785.0 L315.5 792.1 L322.5 798.8 L329.5 805.4 L336.5 810.4 L343.5 814.2 L350.5 817.6 L357.5 821.0 L364.5 822.8 L371.5 824.5 L378.5 825.6 L385.5 827.6 L392.5 830.0 L399.5 832.1 L406.5 834.0 L413.5 835.2 L420.5 835.8 L427.5 835.8 L434.5 834.9 L441.5 833.5 L448.5 831.7 L455.5 829.7 L462.5 826.1 L469.5 822.4 L476.5 818.6 L483.5 815.1 L490.5 812.0 L497.5 810.0 L504.5 808.0 L511.5 804.0 L518.5 800.0 L525.5 795.0 L532.5 790.1 L539.5 786.1 L546.5 782.1 L553.5 780.2 L560.5 778.4 L567.5 777.1 L574.5 775.7 L581.5 775.0 L588.5 774.3 L595.5 775.9 L602.5 777.5 L609.5 779.2 L616.5 781.0 L623.5 782.1 L630.5 783.3 L637.5 783.8 L644.5 784.3 L651.5 785.8 L658.5 787.4 L665.5 785.9 L672.5 788.4 L679.5 788.2 L686.5 788.0 L693.5 786.4 L700.5 784.7 L707.5 782.2 L714.5 779.7 L721.5 778.5 L728.5 777.2 L735.5 776.0 L742.5 774.8 L749.5 774.4 L756.5 774.0 L763.5 774.0 L770.5 774.0 L777.5 774.8 L784.5 775.7 L791.5 777.7 L798.5 779.7 L805.5 781.7 L812.5 783.8 L819.5 785.1 L826.5 786.5 L833.5 785.6 L840.5 784.7 L847.5 782.2 L854.5 779.7 L861.5 777.6 L868.5 775.4 L875.5 774.2 L882.5 773.0 L889.5 771.9 L896.5 770.7 L903.5 770.7 L910.5 770.7 L917.5 770.6 L924.5 770.4 L931.5 770.0 L938.5 769.5 L945.5 768.6 L952.5 767.7 L959.5 766.8 L966.5 765.9 L973.5 765.9 L980.5 765.5 L987.5 765.0 L994.5 766.8 L1001.5 768.6 L1008.5 771.3 L1015.5 774.0 L1022.5 776.9 L1029.5 779.7 L1036.5 782.2 L1043.5 784.7 L1050.5 787.8 L1057.5 791.0 L1064.5 794.0 L1071.5 796.9 L1078.5 799.1 L1085.5 801.2 L1092.5 802.6 L1099.5 804.0 L1106.5 804.4 L1113.5 804.7 L1120.5 804.5 L1127.5 804.4 L1134.5 803.0 L1141.5 801.7 L1148.5 799.4 L1155.5 797.2 L1162.5 794.5 L1169.5 791.8 L1176.5 789.6 L1183.5 787.4 L1190.5 785.1 L1197.5 782.9 L1204.5 781.5 L1211.5 780.2 L1218.5 779.8 L1225.5 779.3 L1232.5 779.5 L1239.5 779.7 L1246.5 780.4 L1253.5 781.1 L1260.5 781.8 L1267.5 782.5 L1274.5 782.7 L1281.5 782.9 L1288.5 782.7 L1295.5 782.5 L1302.5 783.6 L1309.5 784.7 L1316.5 786.0 L1323.5 787.4 L1330.5 788.6 L1337.5 789.7 L1344.5 790.0 L1351.5 790.4 L1358.5 790.4 L1365.5 790.4 L1372.5 790.4 L1379.5 790.7 L1386.5 791.0 L1393.5 791.3 L1400.5 791.5 L1407.5 792.8 L1414.5 796.2 L1421.5 799.8 L1428.5 803.5 L1435.5 807.1 L1442.5 810.1 L1449.5 813.3 L1456.5 816.0 L1463.5 817.8 L1470.5 819.0 L1477.5 819.6 L1484.5 818.7 L1491.5 818.3 L1498.5 816.9 L1505.5 815.5 L1512.5 814.2 L1519.5 812.4 L1526.5 810.6 L1533.5 808.9 L1540.5 807.1 L1547.5 805.8 L1554.5 804.4 L1561.5 803.3 L1568.5 802.2 L1575.5 801.0 L1582.5 799.9 L1589.5 798.8 L1596.5 798.4 L1603.5 798.1 L1610.5 796.6 L1617.5 795.1 L1624.5 792.6 L1631.5 790.0 L1638.5 788.0 L1645.5 786.1 L1652.5 784.3 L1659.5 782.5 L1666.5 780.9 L1673.5 779.3 L1680.5 778.0 L1687.5 776.6 L1694.5 776.0 L1701.5 775.4 L1708.5 775.8 L1715.5 776.1 L1722.5 777.0 L1729.5 777.9 L1736.5 778.8 L1743.5 779.7 L1750.5 780.2 L1757.5 780.8 L1764.5 781.1" fill="none" stroke="#e9cb55" stroke-width="1.2" stroke-linejoin="round" stroke-linecap="round"/>
<path d="M7.5 780.8 L14.5 781.0 L21.5 782.9 L28.5 779.4 L35.5 774.8 L42.5 770.7 L49.5 772.7 L56.5 773.3 L63.5 775.1 L70.5 773.9 L77.5 772.8 L84.5 772.5 L91.5 771.8 L98.5 769.1 L105.5 768.8 L112.5 754.8 L119.5 744.4 L126.5 738.1 L133.5 733.5 L140.5 730.5 L147.5 729.4 L154.5 727.3 L161.5 726.1 L168.5 726.0 L175.5 724.8 L182.5 725.8 L189.5 728.9 L196.5 737.0 L203.5 742.6 L210.5 747.6 L217.5 751.6 L224.5 756.2 L231.5 756.5 L238.5 758.5 L245.5 760.5 L252.5 763.9 L259.5 767.2 L266.5 766.7 L273.5 765.0 L280.5 766.2 L287.5 778.3 L294.5 796.2 L301.5 808.6 L308.5 817.6 L315.5 823.4 L322.5 827.9 L329.5 830.0 L336.5 830.1 L343.5 829.4 L350.5 829.9 L357.5 832.2 L364.5 831.5 L371.5 831.0 L378.5 830.3 L385.5 835.9 L392.5 839.9 L399.5 842.0 L406.5 842.3 L413.5 839.9 L420.5 837.1 L427.5 833.5 L434.5 832.6 L441.5 828.6 L448.5 824.8 L455.5 821.4 L462.5 812.9 L469.5 807.2 L476.5 803.4 L483.5 800.2 L490.5 796.8 L497.5 795.0 L504.5 795.0 L511.5 791.6 L518.5 784.1 L525.5 778.3 L532.5 772.8 L539.5 770.1 L546.5 768.2 L553.5 769.3 L560.5 769.4 L567.5 770.1 L574.5 769.3 L581.5 770.6 L588.5 776.1 L595.5 781.2 L602.5 784.9 L609.5 787.5 L616.5 787.7 L623.5 787.5 L630.5 787.5 L637.5 788.0 L644.5 787.6 L651.5 789.0 L658.5 791.0 L665.5 789.1 L672.5 790.6 L679.5 790.0 L686.5 787.1 L693.5 783.1 L700.5 778.5 L707.5 774.4 L714.5 771.4 L721.5 770.6 L728.5 769.9 L735.5 770.5 L742.5 770.0 L749.5 771.2 L756.5 771.6 L763.5 772.2 L770.5 773.6 L777.5 774.3 L784.5 779.0 L791.5 783.0 L798.5 786.6 L805.5 788.6 L812.5 790.7 L819.5 791.4 L826.5 792.1 L833.5 789.8 L840.5 785.3 L847.5 776.6 L854.5 770.8 L861.5 769.1 L868.5 766.9 L875.5 766.4 L882.5 767.2 L889.5 767.4 L896.5 766.3 L903.5 768.9 L910.5 769.8 L917.5 769.2 L924.5 768.6 L931.5 768.2 L938.5 766.4 L945.5 763.7 L952.5 762.2 L959.5 762.5 L966.5 763.5 L973.5 764.1 L980.5 763.2 L987.5 765.8 L994.5 773.0 L1001.5 776.9 L1008.5 780.5 L1015.5 784.3 L1022.5 787.2 L1029.5 791.1 L1036.5 793.0 L1043.5 795.0 L1050.5 797.9 L1057.5 803.2 L1064.5 806.2 L1071.5 808.8 L1078.5 810.3 L1085.5 810.4 L1092.5 809.8 L1099.5 810.3 L1106.5 805.5 L1113.5 805.1 L1120.5 804.0 L1127.5 802.4 L1134.5 799.3 L1141.5 796.2 L1148.5 791.6 L1155.5 788.0 L1162.5 783.1 L1169.5 779.6 L1176.5 779.8 L1183.5 778.0 L1190.5 776.6 L1197.5 775.0 L1204.5 775.1 L1211.5 775.7 L1218.5 777.5 L1225.5 777.5 L1232.5 778.0 L1239.5 780.1 L1246.5 781.8 L1253.5 784.0 L1260.5 785.1 L1267.5 784.3 L1274.5 785.6 L1281.5 783.9 L1288.5 784.2 L1295.5 783.3 L1302.5 786.3 L1309.5 788.3 L1316.5 790.0 L1323.5 793.0 L1330.5 795.7 L1337.5 793.7 L1344.5 791.8 L1351.5 791.5 L1358.5 792.6 L1365.5 791.1 L1372.5 789.9 L1379.5 791.2 L1386.5 791.6 L1393.5 791.9 L1400.5 792.3 L1407.5 795.5 L1414.5 804.0 L1421.5 810.6 L1428.5 819.1 L1435.5 823.0 L1442.5 826.4 L1449.5 828.5 L1456.5 829.7 L1463.5 827.0 L1470.5 823.7 L1477.5 821.8 L1484.5 817.4 L1491.5 815.0 L1498.5 812.1 L1505.5 810.8 L1512.5 808.9 L1519.5 805.2 L1526.5 802.3 L1533.5 801.5 L1540.5 800.7 L1547.5 799.3 L1554.5 798.8 L1561.5 798.4 L1568.5 798.8 L1575.5 797.3 L1582.5 796.5 L1589.5 795.4 L1596.5 794.7 L1603.5 794.3 L1610.5 791.2 L1617.5 786.9 L1624.5 782.9 L1631.5 780.8 L1638.5 779.8 L1645.5 778.3 L1652.5 777.6 L1659.5 775.1 L1666.5 774.2 L1673.5 773.8 L1680.5 773.7 L1687.5 772.3 L1694.5 772.6 L1701.5 773.6 L1708.5 775.0 L1715.5 776.6 L1722.5 778.8 L1729.5 780.1 L1736.5 781.6 L1743.5 782.5 L1750.5 782.7 L1757.5 782.4 L1764.5 780.7" fill="none" stroke="#68c7bf" stroke-width="1.2" stroke-linejoin="round" stroke-linecap="round"/>
<text x="11.3" y="10.8" fill="#555" textLength="51.7" lengthAdjust="spacingAndGlyphs">O: 9214.1</text>
<text x="71.3" y="10.8" fill="#555" textLength="51.3" lengthAdjust="spacingAndGlyphs">H: 9220.2</text>
<text x="131.5" y="10.8" fill="#555" textLength="49" lengthAdjust="spacingAndGlyphs">L: 9208.7</text>
<text x="189.4" y="10.8" fill="#555" textLength="50.6" lengthAdjust="spacingAndGlyphs">C: 9219.8</text>
<text x="248.8" y="10.8" fill="#555" textLength="26.5" lengthAdjust="spacingAndGlyphs">涨幅:</text>
<text x="283.6" y="10.8" fill="#86bda2" textLength="23.1" lengthAdjust="spacingAndGlyphs">0.06</text>
<text x="311" y="10.8" fill="#555" textLength="10.6" lengthAdjust="spacingAndGlyphs">%</text>
<text x="330" y="10.8" fill="#555" textLength="26.5" lengthAdjust="spacingAndGlyphs">振幅:</text>
<text x="362.8" y="10.8" fill="#555" textLength="36.5" lengthAdjust="spacingAndGlyphs">0.12 %</text>
<text x="408.3" y="10.8" fill="#76cbc4" textLength="66.7" lengthAdjust="spacingAndGlyphs">MA7: 9210.9</text>
<text x="483.4" y="10.8" fill="#ecd267" textLength="73.3" lengthAdjust="spacingAndGlyphs">MA30: 9228.7</text>
<text x="2.9" y="553.8" fill="#555" textLength="77.5" lengthAdjust="spacingAndGlyphs">VOLUME(5,10)</text>
<text x="89" y="553.8" fill="#555" textLength="89" lengthAdjust="spacingAndGlyphs">VOLUME: 868.60</text>
<text x="186" y="553.8" fill="#76cbc4" textLength="67" lengthAdjust="spacingAndGlyphs">MA5: 932.08</text>
<text x="261" y="553.8" fill="#ecd267" textLength="79" lengthAdjust="spacingAndGlyphs">MA10: 1041.55</text>
<text x="3.2" y="708" fill="#555" textLength="80.5" lengthAdjust="spacingAndGlyphs">MACD(12,26,9)</text>
<text x="92" y="708" fill="#76cbc4" textLength="53" lengthAdjust="spacingAndGlyphs">DIF: -6.35</text>
<text x="154" y="708" fill="#ecd267" textLength="57" lengthAdjust="spacingAndGlyphs">DEA: -6.74</text>
<text x="219" y="708" fill="#c79bd0" textLength="63" lengthAdjust="spacingAndGlyphs">MACD: 0.77</text>
<path d="M1847.5 383.5h7M1847.5 383.5l2.5-2M1847.5 383.5l2.5 2" stroke="#e0a56a" fill="none" stroke-width="1"/>
<text x="1856.5" y="387.8" fill="#e0a56a" textLength="27" lengthAdjust="spacingAndGlyphs">9165</text>
<path d="M1847.5 689.5h7M1847.5 689.5l2.5-2M1847.5 689.5l2.5 2" stroke="#e0a56a" fill="none" stroke-width="1"/>
<text x="1856.5" y="693.6" fill="#e0a56a" textLength="35" lengthAdjust="spacingAndGlyphs">156.11</text>
<path d="M1846.5 770.5L1851.5 760.5H1918.5V780.5H1851.5Z" fill="#fff" stroke="#9a9a9a" stroke-width="1"/>
<text x="1883" y="773.4" fill="#555" text-anchor="middle" textLength="22" lengthAdjust="spacingAndGlyphs">9.67</text>
<text x="123.6" y="42.4" fill="#555" font-size="8.5" font-family="'DejaVu Sans',sans-serif">←</text>
<text x="134.8" y="42.8" fill="#555" textLength="35.4" lengthAdjust="spacingAndGlyphs" font-size="11.5">9469.9</text>
<text x="1383.7" y="520.6" fill="#555" textLength="35.4" lengthAdjust="spacingAndGlyphs" font-size="11.5">9047.1</text>
<text x="1424.6" y="520.2" fill="#555" font-size="8.5" font-family="'DejaVu Sans',sans-serif">→</text>
<ellipse cx="1424" cy="514" rx="52" ry="18" fill="none" stroke="#d8686c" stroke-width="1"/>
<path d="M1445.5 512.6 L1490.3 482.2 L1555.3 436.8 L1555.0 440.1 L1561.7 430.2 L1550.1 433.2 L1553.4 434.0 L1488.8 480.0 L1445.1 512.0Z" fill="#d9383a"/>
<path d="M1599.5 453.1 L1636.9 437.8 L1689.0 415.3 L1688.1 418.5 L1696.6 410.1 L1684.6 410.7 L1687.7 412.2 L1635.8 435.3 L1599.3 452.5Z" fill="#d9383a"/>
<path d="M1767.9 426.7 L1780.0 396.8 L1810.9 314.9 L1812.5 317.9 L1812.4 305.9 L1804.5 314.9 L1807.7 313.7 L1777.4 395.9 L1767.1 426.3Z" fill="#d9383a"/>
<text x="1570.6" y="348.6" fill="#d8434e" stroke="#d8434e" stroke-width="0.25" font-size="20" font-weight="300" textLength="139.5" lengthAdjust="spacingAndGlyphs">递增式缓慢拉升</text>
<g stroke="#b5b5b5" stroke-width="1" shape-rendering="crispEdges">
<path d="M49.5 853v3"/>
<path d="M133.5 853v3"/>
<path d="M217.5 853v3"/>
<path d="M301.5 853v3"/>
<path d="M385.5 853v3"/>
<path d="M469.5 853v3"/>
<path d="M553.5 853v3"/>
<path d="M637.5 853v3"/>
<path d="M721.5 853v3"/>
<path d="M805.5 853v3"/>
<path d="M889.5 853v3"/>
<path d="M973.5 853v3"/>
<path d="M1057.5 853v3"/>
<path d="M1141.5 853v3"/>
<path d="M1225.5 853v3"/>
<path d="M1309.5 853v3"/>
<path d="M1393.5 853v3"/>
<path d="M1477.5 853v3"/>
<path d="M1561.5 853v3"/>
<path d="M1645.5 853v3"/>
<path d="M1729.5 853v3"/>
</g>
<text x="49.5" y="866.3" fill="#888" text-anchor="middle" textLength="30" lengthAdjust="spacingAndGlyphs">12:00</text>
<text x="133.5" y="866.3" fill="#333" text-anchor="middle" textLength="36.5" lengthAdjust="spacingAndGlyphs">7月9日</text>
<text x="217.5" y="866.3" fill="#888" text-anchor="middle" textLength="30" lengthAdjust="spacingAndGlyphs">12:00</text>
<text x="301.5" y="866.3" fill="#333" text-anchor="middle" textLength="42.5" lengthAdjust="spacingAndGlyphs">7月10日</text>
<text x="385.5" y="866.3" fill="#888" text-anchor="middle" textLength="30" lengthAdjust="spacingAndGlyphs">12:00</text>
<text x="469.5" y="866.3" fill="#333" text-anchor="middle" textLength="42.5" lengthAdjust="spacingAndGlyphs">7月11日</text>
<text x="553.5" y="866.3" fill="#888" text-anchor="middle" textLength="30" lengthAdjust="spacingAndGlyphs">12:00</text>
<text x="637.5" y="866.3" fill="#333" text-anchor="middle" textLength="42.5" lengthAdjust="spacingAndGlyphs">7月12日</text>
<text x="721.5" y="866.3" fill="#888" text-anchor="middle" textLength="30" lengthAdjust="spacingAndGlyphs">12:00</text>
<text x="805.5" y="866.3" fill="#333" text-anchor="middle" textLength="42.5" lengthAdjust="spacingAndGlyphs">7月13日</text>
<text x="889.5" y="866.3" fill="#888" text-anchor="middle" textLength="30" lengthAdjust="spacingAndGlyphs">12:00</text>
<text x="973.5" y="866.3" fill="#333" text-anchor="middle" textLength="42.5" lengthAdjust="spacingAndGlyphs">7月14日</text>
<text x="1057.5" y="866.3" fill="#888" text-anchor="middle" textLength="30" lengthAdjust="spacingAndGlyphs">12:00</text>
<text x="1141.5" y="866.3" fill="#333" text-anchor="middle" textLength="42.5" lengthAdjust="spacingAndGlyphs">7月15日</text>
<text x="1225.5" y="866.3" fill="#888" text-anchor="middle" textLength="30" lengthAdjust="spacingAndGlyphs">12:00</text>
<text x="1288" y="866.3" fill="#333" textLength="30.5" lengthAdjust="spacingAndGlyphs">7月16</text>
<text x="1393.5" y="866.3" fill="#888" text-anchor="middle" textLength="30" lengthAdjust="spacingAndGlyphs">12:00</text>
<text x="1477.5" y="866.3" fill="#333" text-anchor="middle" textLength="42.5" lengthAdjust="spacingAndGlyphs">7月17日</text>
<text x="1561.5" y="866.3" fill="#888" text-anchor="middle" textLength="30" lengthAdjust="spacingAndGlyphs">12:00</text>
<text x="1645.5" y="866.3" fill="#333" text-anchor="middle" textLength="42.5" lengthAdjust="spacingAndGlyphs">7月18日</text>
<text x="1729.5" y="866.3" fill="#888" text-anchor="middle" textLength="30" lengthAdjust="spacingAndGlyphs">12:00</text>
<rect x="1319.5" y="853.5" width="106" height="14" fill="#fff" stroke="#9a9a9a" stroke-width="1"/>
<text x="1335.5" y="866.3" fill="#333" textLength="41.5" lengthAdjust="spacingAndGlyphs">7月16日</text>
<text x="1386" y="866.3" fill="#333" textLength="23.5" lengthAdjust="spacingAndGlyphs">9:00</text>
</svg>
</body></html>
